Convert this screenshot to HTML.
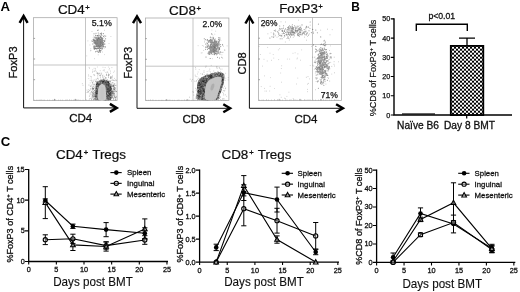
<!DOCTYPE html>
<html><head><meta charset="utf-8"><title>Figure</title>
<style>html,body{margin:0;padding:0;background:#fff;width:520px;height:292px;overflow:hidden}svg{display:block;font-family:"Liberation Sans",sans-serif}</style>
</head><body>
<svg width="520" height="292" viewBox="0 0 520 292" font-family="Liberation Sans, sans-serif">
<rect width="520" height="292" fill="#fff"/>
<defs><filter id="soft" x="0" y="0" width="520" height="292" filterUnits="userSpaceOnUse"><feGaussianBlur stdDeviation="0.32"/></filter><filter id="soft2" x="0" y="0" width="520" height="292" filterUnits="userSpaceOnUse"><feGaussianBlur stdDeviation="0.5"/></filter></defs>
<g filter="url(#soft)">
<text x="0.6" y="10.9" font-size="13.2" text-anchor="start" font-weight="bold" fill="#000" >A</text>
<text x="351.2" y="10.9" font-size="11.9" text-anchor="start" font-weight="bold" fill="#000" >B</text>
<text x="0.7" y="146.0" font-size="13.2" text-anchor="start" font-weight="bold" fill="#000" >C</text>
<rect x="33.6" y="17.7" width="83.5" height="82.7" fill="#fff" stroke="#a6a6a6" stroke-width="0.75"/>
<path d="M85.5 17.7V100.4M33.6 65.0H117.1" stroke="#acacac" stroke-width="0.7" fill="none"/>
<path d="M33.6 38.4h1.5M54.5 100.4v-1.5M33.6 59.0h1.5M75.3 100.4v-1.5M33.6 79.7h1.5M96.2 100.4v-1.5" stroke="#666" stroke-width="0.6" fill="none"/>
<path d="M34.6 100.4v-0.8M36.6 100.4v-0.8M38.1 100.4v-0.8M39.6 100.4v-0.8M41.1 100.4v-1.2M43.1 100.4v-0.8M44.6 100.4v-0.8M47.6 100.4v-0.8M49.6 100.4v-0.8M52.6 100.4v-0.8M54.1 100.4v-0.8M55.6 100.4v-1.2M58.6 100.4v-0.8M60.6 100.4v-0.8M62.6 100.4v-0.8M65.6 100.4v-0.8M67.1 100.4v-1.2M69.6 100.4v-1.2M71.6 100.4v-0.8M73.6 100.4v-0.8M75.1 100.4v-1.2M76.6 100.4v-1.2M78.1 100.4v-1.2M80.1 100.4v-0.8M83.1 100.4v-0.8M86.1 100.4v-1.2M89.1 100.4v-0.8M91.6 100.4v-0.8M93.6 100.4v-1.2M95.6 100.4v-0.8M98.1 100.4v-1.2M101.1 100.4v-0.8M104.1 100.4v-0.8M105.6 100.4v-0.8M108.6 100.4v-0.8M111.1 100.4v-0.8M114.1 100.4v-0.8M115.6 100.4v-1.2" stroke="#777" stroke-width="0.5" stroke-opacity="0.7" fill="none"/>
<path d="M23.6 16.0V107.9H116.7" stroke="#111" stroke-width="1.0" fill="none"/>
<path d="M19.6 22.8L23.6 16.0L27.6 22.8" stroke="#000" stroke-width="2.45" fill="none" stroke-linejoin="miter"/>
<path d="M109.9 103.9L116.7 107.9L109.9 111.9" stroke="#000" stroke-width="2.45" fill="none" stroke-linejoin="miter"/>
<text x="73.8" y="14.0" font-size="13.4" text-anchor="middle" fill="#111" stroke="#111" stroke-width="0.22">CD4<tspan font-size="7.7" dx="0.5" dy="-3.8" stroke="#111" stroke-width="0.35">+</tspan><tspan dy="3.8"></tspan></text>
<text x="80.7" y="122.2" font-size="11.5" text-anchor="middle" font-weight="normal" fill="#111" stroke="#111" stroke-width="0.3">CD4</text>
<text transform="translate(17.2 62.4) rotate(-90)" font-size="11.1" text-anchor="middle" fill="#111" stroke="#111" stroke-width="0.3">FoxP3</text>
<text x="91.7" y="25.9" font-size="9.3" text-anchor="start" font-weight="normal" fill="#111" stroke="#111" stroke-width="0.25" textLength="20.2" lengthAdjust="spacingAndGlyphs">5.1%</text>
<path d="M99.0 38.1h.01M100.2 40.6h.01M97.6 38.2h.01M96.3 40.9h.01M101.9 35.5h.01M95.1 43.7h.01M102.3 44.9h.01M94.0 33.7h.01M99.6 40.1h.01M95.9 46.3h.01M101.5 43.4h.01M99.3 44.4h.01M102.7 45.0h.01M100.0 44.8h.01M94.8 47.4h.01M101.1 44.7h.01M93.8 40.5h.01M100.8 36.3h.01M98.2 46.5h.01M95.4 48.6h.01M100.1 42.3h.01M99.5 45.1h.01M99.0 46.9h.01M97.0 41.3h.01M101.3 42.9h.01M96.5 46.2h.01M102.4 41.2h.01M95.3 42.3h.01M98.3 41.7h.01M102.2 39.1h.01M101.9 38.2h.01M96.7 45.1h.01M101.5 45.9h.01M99.6 43.3h.01M99.1 44.9h.01M98.3 43.8h.01M100.1 42.8h.01M100.6 44.8h.01M103.7 44.0h.01M97.6 41.5h.01M98.7 46.1h.01M97.9 44.2h.01M103.3 33.6h.01M95.9 43.7h.01M99.7 43.7h.01M97.6 45.2h.01M99.4 40.9h.01M104.8 44.1h.01M97.3 42.4h.01M98.1 42.6h.01M91.9 41.0h.01M101.2 38.6h.01M98.5 46.2h.01M100.8 48.2h.01M94.4 41.5h.01M97.8 45.0h.01M101.4 33.1h.01M101.4 37.6h.01M100.4 37.4h.01M99.1 47.1h.01M98.3 43.5h.01M100.7 43.3h.01M98.5 48.3h.01M101.3 41.7h.01M105.6 38.7h.01M101.0 41.8h.01M99.0 45.3h.01M99.3 45.1h.01M94.9 37.4h.01M100.2 39.3h.01M96.1 37.5h.01M101.9 45.5h.01M102.4 39.4h.01M98.7 38.7h.01M100.6 48.5h.01M96.5 48.4h.01M101.2 42.2h.01M93.8 47.9h.01M98.5 40.6h.01M99.7 44.3h.01M102.4 39.1h.01M101.5 48.2h.01M102.3 42.1h.01M96.8 46.5h.01M99.0 43.2h.01M102.3 41.9h.01M93.0 41.4h.01M94.1 45.7h.01M99.5 40.6h.01M98.7 45.8h.01M98.9 47.6h.01M98.5 46.5h.01M102.4 48.6h.01M97.0 46.0h.01M94.0 38.9h.01M93.8 46.6h.01M95.6 42.8h.01M98.2 42.7h.01M97.2 43.6h.01M103.2 43.0h.01M100.0 46.4h.01M98.2 38.3h.01M97.3 46.7h.01M94.6 40.6h.01M101.2 45.7h.01M98.7 45.7h.01M99.1 38.6h.01M94.8 40.5h.01M101.0 40.8h.01M96.4 40.0h.01M94.9 42.4h.01M95.8 44.1h.01M92.8 44.0h.01M97.1 35.8h.01M100.5 41.8h.01M93.1 39.6h.01M99.4 41.1h.01M100.6 45.5h.01M100.4 44.0h.01M102.0 45.2h.01M99.8 35.3h.01M100.9 47.5h.01M98.0 41.1h.01M103.6 36.5h.01M99.9 51.5h.01M96.4 45.3h.01M103.4 42.4h.01M100.1 46.0h.01M96.4 42.5h.01M99.4 45.8h.01M98.6 42.1h.01M96.2 41.5h.01M100.9 43.2h.01M96.6 39.8h.01M105.4 46.9h.01M100.3 33.5h.01M100.3 44.5h.01M102.9 44.3h.01M98.5 44.7h.01M93.8 46.5h.01M99.5 40.3h.01M102.0 49.3h.01M95.2 40.4h.01M99.4 43.5h.01M97.7 39.3h.01M104.0 46.5h.01M95.7 38.0h.01M103.0 46.4h.01M103.3 45.7h.01M96.5 43.7h.01M93.3 40.1h.01M98.6 44.7h.01M96.9 42.4h.01M99.8 44.2h.01M100.3 43.6h.01M97.9 45.6h.01M98.8 39.8h.01M97.1 42.8h.01M98.4 43.4h.01M98.7 43.4h.01M98.4 38.3h.01M99.8 46.6h.01M99.8 42.1h.01M99.8 39.3h.01M94.0 43.0h.01M96.4 45.5h.01M96.0 33.3h.01M96.1 48.5h.01M97.7 37.9h.01M96.8 44.7h.01M99.9 43.4h.01M102.4 45.3h.01M98.6 44.9h.01M102.8 46.3h.01M101.3 38.9h.01M98.3 45.4h.01M98.0 46.6h.01M100.2 46.1h.01M98.2 52.0h.01M101.8 42.0h.01M98.9 52.1h.01M97.8 45.9h.01M101.2 42.8h.01M95.8 43.5h.01M99.6 46.9h.01M100.7 42.9h.01M100.8 44.7h.01M99.2 43.0h.01M98.1 45.3h.01M96.1 40.5h.01M98.7 37.5h.01M97.6 35.6h.01M97.0 44.8h.01M100.1 42.6h.01M98.1 37.7h.01M103.3 44.7h.01M101.4 39.6h.01M98.2 36.2h.01M100.7 46.2h.01M94.0 42.6h.01M100.3 36.5h.01M94.1 39.0h.01M97.1 37.7h.01M98.8 43.7h.01M100.3 45.3h.01M102.5 47.0h.01M95.4 41.0h.01M96.0 38.9h.01M98.5 42.8h.01M99.9 37.1h.01M95.6 42.7h.01M98.2 41.7h.01M98.5 40.1h.01M100.5 44.1h.01M98.5 40.4h.01M98.3 33.0h.01M96.2 42.9h.01M94.9 43.5h.01M99.1 37.8h.01M98.1 41.7h.01M99.8 45.0h.01M98.6 39.7h.01M98.3 42.6h.01M100.5 43.9h.01M96.9 37.9h.01M97.8 40.1h.01M95.9 42.4h.01M97.5 43.2h.01M100.0 41.3h.01M104.5 41.6h.01M101.5 43.2h.01M101.5 34.2h.01M96.8 43.7h.01M100.2 51.2h.01M99.5 47.4h.01M100.6 46.2h.01M100.0 42.2h.01M100.0 38.9h.01M101.7 39.1h.01M99.3 50.4h.01M98.1 42.9h.01M101.6 42.9h.01M96.7 43.7h.01M100.2 45.4h.01M96.8 49.1h.01M102.9 42.9h.01M99.4 41.3h.01M102.2 40.3h.01M100.4 41.1h.01M97.0 45.4h.01M102.0 42.8h.01M97.0 45.7h.01M98.6 43.9h.01M102.5 46.9h.01M97.4 51.0h.01M98.7 45.6h.01M97.1 42.6h.01M94.3 49.2h.01M102.1 38.4h.01M94.9 37.0h.01M101.6 41.1h.01M98.5 41.7h.01M98.4 38.9h.01M98.8 37.6h.01M98.5 43.9h.01M99.9 42.0h.01M96.4 43.4h.01M97.5 48.4h.01M100.6 42.4h.01M97.5 40.3h.01M96.4 41.5h.01M99.4 44.7h.01M100.1 50.4h.01M96.9 42.8h.01M105.7 36.1h.01M97.4 43.4h.01M99.1 44.3h.01M98.1 44.1h.01M98.8 45.6h.01M94.0 39.6h.01M98.7 39.1h.01M96.1 45.1h.01M97.1 45.1h.01M100.6 43.9h.01M100.0 42.4h.01M95.2 42.7h.01M99.8 40.9h.01M98.5 45.5h.01M96.5 45.1h.01M103.4 40.8h.01M99.1 42.3h.01M102.6 43.9h.01M100.9 40.3h.01M98.7 42.8h.01M94.3 48.0h.01M100.9 36.5h.01M100.6 42.3h.01M99.8 44.1h.01M95.0 42.0h.01M102.4 40.7h.01M96.1 37.9h.01M95.6 44.0h.01M102.9 44.3h.01M99.3 50.8h.01M97.4 40.4h.01M100.0 44.8h.01M96.2 38.6h.01M99.4 43.7h.01M95.4 42.1h.01M97.3 44.5h.01M98.4 42.5h.01M97.8 46.6h.01M102.2 41.5h.01M100.8 40.1h.01M98.9 45.5h.01M102.5 41.4h.01M98.5 43.5h.01M95.0 42.9h.01M97.0 44.1h.01M95.9 35.7h.01M98.8 43.7h.01M97.3 46.0h.01M98.0 40.6h.01M99.9 37.2h.01M97.0 42.7h.01M100.8 42.2h.01M99.5 40.4h.01M99.5 48.8h.01M97.0 51.3h.01M97.1 42.9h.01M99.1 46.5h.01M95.6 35.2h.01M100.2 45.7h.01M100.3 52.3h.01M99.2 43.7h.01M101.0 44.1h.01M102.9 38.3h.01M97.8 30.4h.01M100.7 41.5h.01M101.0 50.6h.01M98.7 41.9h.01M97.5 39.8h.01M97.1 45.1h.01M98.8 43.0h.01M98.3 46.1h.01M99.9 42.3h.01M100.4 42.3h.01M95.8 48.0h.01M99.9 39.4h.01M101.4 44.0h.01M94.8 48.6h.01M99.5 46.0h.01M99.2 42.3h.01M94.8 46.3h.01M98.8 41.8h.01M99.6 43.1h.01M100.4 41.5h.01M98.6 35.1h.01M97.6 45.2h.01M102.0 41.5h.01M98.4 48.5h.01M97.9 45.4h.01M102.9 42.9h.01M101.8 40.2h.01M99.2 42.5h.01M99.0 46.9h.01M104.7 40.4h.01M97.3 44.6h.01M96.1 44.6h.01M100.1 41.8h.01M100.0 37.2h.01M100.6 37.2h.01M97.0 40.8h.01M97.7 45.9h.01M98.9 41.4h.01M100.1 48.5h.01M98.7 44.1h.01M101.8 43.8h.01M95.5 51.8h.01M104.2 35.7h.01" stroke="#222" stroke-opacity="0.52" stroke-width="1.1" stroke-linecap="round" fill="none" filter="url(#soft2)"/>
<path d="M98.5 45.8h.01M103.3 47.5h.01M97.4 35.8h.01M99.2 50.0h.01M93.5 36.0h.01M98.6 29.8h.01M97.5 40.0h.01M100.9 38.2h.01M94.5 40.3h.01M98.5 38.5h.01M98.8 48.1h.01M104.4 54.6h.01M94.9 40.1h.01M86.8 55.9h.01M95.2 42.8h.01M101.2 33.8h.01M100.9 42.8h.01M89.9 45.0h.01M104.4 30.3h.01M102.6 44.4h.01M101.0 46.0h.01M105.0 41.5h.01M102.9 40.2h.01M102.2 37.5h.01M98.2 54.8h.01M100.8 41.9h.01M93.2 37.6h.01M99.6 49.4h.01M100.7 46.6h.01M98.5 52.2h.01M96.8 39.3h.01M103.0 43.4h.01M97.4 39.1h.01M97.5 47.2h.01M100.4 34.8h.01M100.7 44.2h.01M93.9 48.3h.01M97.4 40.7h.01M102.5 52.0h.01M95.4 46.0h.01M94.5 58.7h.01M96.3 51.1h.01M95.6 48.5h.01M109.4 25.7h.01M96.6 46.4h.01M98.3 38.5h.01M109.0 43.5h.01M90.8 48.8h.01M90.4 50.8h.01M95.9 44.0h.01M104.8 43.8h.01M92.0 31.5h.01M104.4 48.0h.01M94.8 48.8h.01M101.1 47.4h.01M87.9 40.9h.01M103.0 48.0h.01M102.9 26.3h.01M99.5 46.3h.01M110.9 36.5h.01M97.1 43.2h.01M103.0 40.0h.01M104.2 37.6h.01M100.0 39.4h.01M99.5 38.3h.01M91.0 50.4h.01M100.2 39.2h.01M99.7 49.7h.01M94.0 42.2h.01M101.3 46.6h.01" stroke="#222" stroke-opacity="0.25" stroke-width="0.8" stroke-linecap="round" fill="none" filter="url(#soft2)"/>
<path d="M101.7 73.1h.01M111.5 93.8h.01M103.9 88.6h.01M105.4 87.4h.01M97.4 84.7h.01M100.1 85.8h.01M96.6 96.4h.01M95.7 96.6h.01M97.5 94.0h.01M112.3 92.7h.01M99.3 91.4h.01M104.7 76.3h.01M100.0 92.4h.01M100.9 91.7h.01M108.4 97.5h.01M109.4 96.0h.01M102.0 90.8h.01M102.1 88.3h.01M102.7 76.3h.01M101.7 90.8h.01M97.8 90.8h.01M107.0 89.6h.01M102.5 75.5h.01M88.3 92.1h.01M107.0 88.4h.01M107.2 71.9h.01M109.1 94.2h.01M103.9 86.0h.01M107.8 86.9h.01M105.2 86.7h.01M89.9 90.7h.01M105.1 97.4h.01M98.4 90.7h.01M107.6 92.2h.01M98.2 74.7h.01M109.5 97.9h.01M100.0 84.9h.01M109.3 83.3h.01M92.6 82.5h.01M99.5 84.8h.01M105.2 84.6h.01M111.9 90.3h.01M100.2 92.9h.01M103.7 88.3h.01M105.8 85.1h.01M92.4 72.2h.01M95.9 84.6h.01M103.7 91.5h.01M107.2 92.0h.01M98.9 85.0h.01M90.7 89.6h.01M106.8 95.5h.01M103.0 89.5h.01M109.6 91.1h.01M108.4 96.0h.01M100.2 87.9h.01M98.8 84.2h.01M103.9 95.8h.01M111.1 97.9h.01M111.3 80.3h.01M99.8 94.8h.01M112.7 91.9h.01M98.5 88.0h.01M99.7 83.7h.01M113.1 85.7h.01M111.1 93.9h.01M100.0 94.5h.01M113.9 96.3h.01M111.6 91.8h.01M107.0 89.3h.01M94.9 90.5h.01M105.3 86.1h.01M101.9 97.7h.01M116.2 96.4h.01M105.8 77.8h.01M115.8 91.7h.01M103.6 81.5h.01M103.4 81.7h.01M104.2 95.0h.01M104.0 93.4h.01M99.8 75.5h.01M102.6 84.5h.01M97.5 88.0h.01M105.6 81.0h.01M108.0 89.7h.01M104.6 90.0h.01M103.5 97.2h.01M103.2 70.6h.01M103.7 83.4h.01M107.8 85.8h.01M97.3 81.4h.01M95.0 70.6h.01M92.2 94.1h.01M99.8 75.1h.01M94.6 96.2h.01M99.0 87.9h.01M115.8 99.8h.01M104.7 92.6h.01M101.9 94.9h.01M105.6 91.4h.01M100.7 79.7h.01M100.5 77.9h.01M111.4 95.6h.01M109.3 74.8h.01M115.2 97.9h.01M116.6 80.5h.01M107.1 94.6h.01M105.1 92.5h.01M110.3 78.3h.01M96.1 79.1h.01M100.3 85.9h.01M106.1 93.3h.01M104.0 85.2h.01M101.1 99.1h.01M108.5 91.9h.01M100.1 96.5h.01M111.0 88.7h.01M108.9 81.5h.01M110.1 92.7h.01M94.0 96.7h.01M99.6 89.6h.01M105.6 88.2h.01M105.4 86.3h.01M108.0 91.0h.01M105.1 67.6h.01M111.0 91.3h.01M92.7 91.8h.01M102.9 96.8h.01M101.5 81.5h.01M110.6 98.7h.01M113.3 98.3h.01M100.2 76.9h.01M99.8 85.3h.01M98.7 96.0h.01M105.8 88.7h.01M104.9 89.8h.01M105.1 97.4h.01M109.7 85.2h.01M93.6 88.2h.01M104.0 78.7h.01M100.6 97.2h.01M98.4 79.1h.01M107.0 99.0h.01M105.0 79.9h.01M108.6 97.7h.01M107.2 86.9h.01M105.7 97.7h.01M100.3 75.3h.01M105.8 95.1h.01M103.9 98.6h.01M100.2 90.3h.01M101.9 95.9h.01M113.7 88.9h.01M108.7 96.0h.01M114.8 89.5h.01M103.1 82.0h.01M107.1 94.6h.01M102.6 92.4h.01M101.3 81.6h.01M99.1 84.0h.01M95.4 98.9h.01M109.3 86.1h.01M94.6 84.7h.01M99.9 93.9h.01M101.6 73.8h.01M105.2 78.0h.01M109.4 80.7h.01M99.5 83.7h.01M109.1 96.1h.01M105.8 77.8h.01M100.6 86.3h.01M97.7 95.3h.01M99.2 85.0h.01M97.3 73.5h.01M104.9 82.7h.01M87.0 92.5h.01M111.3 93.5h.01M110.8 87.2h.01M110.3 97.6h.01M94.3 87.6h.01M95.0 90.1h.01M107.4 81.9h.01M102.5 93.3h.01M102.8 99.5h.01M110.2 91.7h.01M95.4 97.3h.01M100.9 96.3h.01M110.9 87.2h.01M100.5 94.7h.01M107.0 79.8h.01M96.0 93.1h.01M108.6 76.8h.01M98.7 92.4h.01M100.7 89.7h.01M106.7 84.1h.01M106.7 85.6h.01M100.4 95.6h.01M100.2 93.4h.01M113.7 91.2h.01M102.9 97.2h.01M95.8 96.3h.01M100.6 84.2h.01M114.8 83.8h.01M114.7 96.6h.01M112.8 82.7h.01M103.1 89.9h.01M101.2 85.6h.01M106.6 93.8h.01M101.8 95.0h.01M112.8 82.5h.01M95.4 81.7h.01M97.4 75.3h.01M106.6 75.2h.01M93.8 88.3h.01M91.9 97.6h.01M99.2 88.7h.01M104.1 95.6h.01M101.7 91.1h.01M100.4 92.0h.01M96.5 91.5h.01M91.8 86.8h.01M115.7 91.7h.01M96.0 93.2h.01M97.8 77.0h.01M99.2 97.3h.01M106.2 90.2h.01M98.1 81.8h.01M112.2 93.1h.01M97.9 73.1h.01M96.7 90.3h.01M105.1 89.7h.01M102.1 79.3h.01M99.1 98.2h.01M93.3 88.7h.01M105.4 99.8h.01M96.8 96.1h.01M106.2 84.7h.01M106.8 83.4h.01M98.9 90.8h.01M87.0 90.1h.01M97.6 78.6h.01M101.2 97.5h.01M96.6 79.8h.01M113.4 94.4h.01M109.7 84.0h.01M108.8 93.2h.01M107.8 91.2h.01M111.3 85.5h.01M97.8 78.4h.01M111.0 84.7h.01M97.3 83.0h.01M101.0 80.2h.01M102.0 85.7h.01M100.4 82.8h.01M104.0 87.1h.01M104.5 93.1h.01M105.9 72.4h.01M100.5 84.2h.01M108.6 77.6h.01M99.4 88.5h.01M101.7 99.4h.01M101.1 99.2h.01M94.7 75.6h.01M111.4 94.7h.01M106.8 92.0h.01M106.8 80.7h.01M109.7 86.5h.01M109.9 91.7h.01M91.6 80.1h.01M110.8 89.8h.01M101.3 93.1h.01M101.2 86.4h.01M104.4 92.2h.01M113.2 91.4h.01M104.6 92.2h.01M102.9 84.8h.01M103.4 85.6h.01M114.0 95.5h.01M101.0 74.7h.01M103.5 87.5h.01M97.1 81.3h.01M89.8 95.8h.01M103.6 89.7h.01M112.8 92.1h.01M104.8 87.8h.01M101.6 91.3h.01M98.3 99.2h.01M95.2 95.8h.01M99.4 84.6h.01M114.0 85.9h.01M99.1 88.1h.01M100.4 75.7h.01M115.4 88.7h.01M99.5 86.7h.01M92.1 98.7h.01M93.2 80.2h.01M105.6 84.5h.01M108.6 91.1h.01M96.5 96.3h.01M109.0 74.7h.01M115.1 95.2h.01M108.5 75.2h.01M99.3 88.0h.01M110.5 78.6h.01M98.3 73.7h.01M102.3 93.9h.01M93.3 86.0h.01M107.9 88.4h.01M96.5 83.0h.01M99.7 92.2h.01M105.6 81.9h.01M113.4 99.1h.01M104.4 84.9h.01M92.2 82.3h.01M109.5 84.2h.01M95.6 92.7h.01M105.3 96.2h.01M98.6 99.3h.01M97.7 96.9h.01M104.9 93.1h.01M109.8 90.9h.01M110.7 98.4h.01M104.6 86.2h.01M99.1 86.5h.01M102.5 90.8h.01M108.6 83.7h.01M99.4 88.3h.01M105.0 82.2h.01M113.8 86.2h.01M110.5 71.1h.01M103.8 93.4h.01M105.0 96.1h.01M105.5 92.4h.01M92.1 84.9h.01M89.3 96.3h.01M105.7 89.3h.01M98.7 86.1h.01M94.0 74.6h.01M100.8 83.6h.01M100.3 92.6h.01M104.1 93.3h.01M103.6 98.9h.01M114.8 80.4h.01M104.8 88.7h.01M106.0 78.0h.01M92.9 71.3h.01M107.1 92.6h.01M104.3 70.9h.01M101.5 84.6h.01M95.0 83.2h.01M108.1 95.6h.01M103.7 95.4h.01M100.1 91.6h.01M104.0 95.7h.01M103.4 89.8h.01M103.0 85.5h.01M112.5 77.8h.01M108.1 98.1h.01M108.6 81.0h.01M98.4 93.3h.01M106.9 82.3h.01M101.4 87.6h.01M104.2 93.9h.01M102.0 80.5h.01M103.1 99.7h.01M106.6 96.6h.01M106.8 84.5h.01M107.4 99.6h.01M116.1 97.3h.01M101.7 85.9h.01M98.8 92.0h.01M103.6 96.7h.01M108.0 95.0h.01M105.5 89.2h.01M103.0 84.0h.01M104.9 90.8h.01M105.8 83.7h.01M104.0 91.4h.01M107.5 82.0h.01M106.4 99.4h.01M107.5 87.9h.01M100.8 89.0h.01M102.8 85.5h.01M106.1 92.7h.01M98.2 84.7h.01M103.2 96.7h.01M96.4 82.3h.01M106.9 80.6h.01M104.5 94.0h.01M103.1 82.3h.01M103.4 88.2h.01M105.9 83.9h.01M110.6 76.8h.01M102.7 91.1h.01M109.8 85.8h.01M107.2 86.2h.01M101.3 94.8h.01M98.1 99.3h.01M111.3 91.3h.01M96.8 94.4h.01M108.8 75.4h.01M115.5 97.5h.01M110.7 88.2h.01M96.2 90.1h.01M102.6 90.6h.01M108.1 89.8h.01M105.0 94.6h.01M106.5 91.7h.01M102.5 85.7h.01M112.1 92.3h.01M97.1 86.2h.01M103.0 87.2h.01M110.5 81.1h.01M106.9 92.2h.01M96.5 91.4h.01M103.2 95.3h.01M101.0 93.6h.01M93.5 81.8h.01M108.7 99.9h.01M103.7 85.9h.01M110.5 73.2h.01M98.8 96.7h.01M107.8 82.2h.01M104.7 83.4h.01M104.1 98.7h.01M108.4 73.3h.01M108.6 75.9h.01M110.9 94.4h.01M99.8 85.0h.01M101.5 90.4h.01M97.1 95.1h.01M107.2 91.6h.01M114.3 88.2h.01M111.9 86.4h.01M108.5 74.6h.01M105.0 89.5h.01M100.7 85.8h.01M101.6 84.9h.01M90.2 85.9h.01M100.4 86.5h.01M97.2 89.8h.01M108.7 88.9h.01M109.9 98.8h.01M111.0 88.2h.01M100.4 90.0h.01M106.1 94.2h.01M102.1 99.4h.01M102.7 97.2h.01M110.4 96.6h.01M108.3 81.1h.01M95.7 85.7h.01M96.2 93.6h.01M98.5 84.8h.01M102.1 96.9h.01M97.7 98.6h.01M109.6 91.6h.01M106.8 86.2h.01M97.0 87.6h.01M105.1 93.7h.01M108.4 84.4h.01M109.5 94.2h.01M94.4 96.1h.01M107.2 94.8h.01M113.6 87.5h.01M107.0 97.4h.01M94.8 79.9h.01M107.0 81.7h.01M103.1 77.0h.01M104.2 81.4h.01M105.9 78.0h.01M106.6 88.7h.01M104.2 90.4h.01M104.6 79.8h.01M87.9 91.3h.01M98.0 87.1h.01M106.4 74.1h.01M99.1 85.8h.01M97.2 93.8h.01M102.9 84.0h.01M97.7 97.9h.01M99.7 96.0h.01M106.6 74.9h.01M97.1 91.0h.01M105.9 97.6h.01M108.8 99.8h.01M101.5 89.2h.01M108.6 87.4h.01M110.4 77.5h.01M107.9 89.5h.01M91.6 99.3h.01M105.7 91.2h.01M97.1 87.0h.01M113.2 84.0h.01M82.3 83.7h.01M96.4 89.9h.01M101.4 83.2h.01M100.4 81.7h.01M108.7 95.8h.01M97.3 97.4h.01M92.4 83.1h.01M110.8 88.8h.01M95.7 95.4h.01M109.5 90.8h.01M92.6 88.1h.01M106.4 97.5h.01M115.3 88.9h.01M100.8 90.7h.01M111.3 83.0h.01M111.9 67.6h.01M108.7 85.3h.01M106.6 96.9h.01M96.5 90.3h.01M105.3 96.0h.01M98.0 82.6h.01M102.6 89.1h.01M94.5 98.9h.01M109.1 91.2h.01M108.3 81.5h.01M101.8 86.1h.01M95.9 91.1h.01M83.0 85.3h.01M98.1 87.1h.01M106.4 94.4h.01M104.0 87.0h.01M106.9 94.1h.01M92.4 88.8h.01M95.3 81.0h.01M104.7 91.5h.01M104.5 83.6h.01M102.6 83.2h.01M106.2 96.9h.01M98.8 87.1h.01M98.0 93.6h.01M116.1 97.0h.01M90.2 80.3h.01M95.8 95.4h.01M103.8 93.5h.01M114.8 84.0h.01M105.9 84.4h.01M91.2 78.0h.01M88.6 91.6h.01M104.1 99.4h.01M102.9 85.1h.01M92.9 92.5h.01M104.0 96.2h.01M101.3 95.2h.01M108.9 89.7h.01M101.0 89.4h.01M97.8 89.2h.01M101.9 92.8h.01M101.0 96.1h.01M105.6 97.5h.01M103.9 93.3h.01M100.9 84.3h.01M107.9 94.7h.01M105.5 87.2h.01M92.7 96.6h.01M105.0 86.3h.01M99.3 90.8h.01M100.7 92.3h.01M102.5 84.6h.01M110.5 84.3h.01M100.7 95.7h.01M100.5 87.3h.01M106.0 87.9h.01M96.1 90.1h.01M97.0 99.2h.01M98.9 88.0h.01M101.8 93.3h.01M110.0 97.9h.01M99.1 98.7h.01M103.1 94.0h.01M102.1 96.6h.01M102.5 99.5h.01M112.8 83.0h.01M112.9 79.6h.01M107.2 96.0h.01M113.0 93.4h.01M100.8 84.2h.01M96.0 97.5h.01M102.3 84.9h.01M107.1 84.5h.01M101.1 87.1h.01M102.8 77.6h.01M105.5 91.6h.01M106.0 95.8h.01M101.8 98.9h.01M109.0 92.8h.01M101.3 86.9h.01M108.1 81.7h.01" stroke="#222" stroke-opacity="0.25" stroke-width="0.9" stroke-linecap="round" fill="none" filter="url(#soft2)"/>
<path d="M108.1 75.3h.01M99.8 89.2h.01M97.3 67.0h.01M111.6 92.2h.01M95.4 68.4h.01M112.2 86.7h.01M88.4 74.9h.01M90.3 92.7h.01M93.2 96.7h.01M109.1 69.8h.01M107.5 79.8h.01M109.1 93.9h.01M95.3 69.9h.01M114.9 80.8h.01M114.4 89.5h.01M108.8 94.0h.01M105.5 81.7h.01M88.6 89.7h.01M99.6 83.6h.01M114.4 71.1h.01M109.5 68.4h.01M107.7 93.2h.01M94.7 84.8h.01M115.6 87.7h.01M103.0 75.1h.01M88.8 78.6h.01M99.1 73.5h.01M96.2 71.4h.01M107.9 88.8h.01M94.0 74.9h.01M102.2 81.5h.01M114.6 78.4h.01M95.8 95.8h.01M91.2 85.3h.01M96.8 93.5h.01M103.2 91.7h.01M92.0 88.7h.01M104.7 82.0h.01M109.6 94.0h.01M90.4 76.4h.01M97.6 73.7h.01M88.8 76.1h.01M92.8 89.8h.01M100.2 70.7h.01M96.6 82.2h.01M97.7 72.5h.01M89.1 67.4h.01M116.3 91.4h.01M89.5 90.3h.01M115.9 85.3h.01M90.2 82.9h.01M99.8 73.2h.01M103.0 67.3h.01M114.1 87.9h.01M105.5 97.4h.01M106.3 75.2h.01M94.3 71.5h.01M87.8 92.2h.01M111.8 76.6h.01M92.5 87.7h.01M111.9 97.1h.01M92.0 92.5h.01M111.5 91.1h.01M96.6 73.0h.01M111.3 77.4h.01M97.9 84.9h.01M97.9 94.0h.01M94.1 68.3h.01M103.7 87.4h.01M111.2 89.9h.01M113.7 97.7h.01M101.6 83.2h.01M91.6 76.7h.01M104.1 69.6h.01M107.3 72.3h.01M100.1 98.5h.01M89.6 68.3h.01M100.0 73.2h.01M108.3 67.1h.01M111.8 94.8h.01M110.2 80.8h.01M95.4 88.5h.01M102.2 80.7h.01M97.0 81.3h.01M106.7 93.8h.01M113.7 72.3h.01M95.7 81.4h.01M103.6 78.3h.01M92.8 69.8h.01M96.5 82.0h.01" stroke="#222" stroke-opacity="0.25" stroke-width="0.8" stroke-linecap="round" fill="none" filter="url(#soft2)"/>
<path d="M115.8 79.9h.01M114.7 89.2h.01M111.8 89.2h.01M110.0 84.3h.01M110.6 97.8h.01M114.1 89.2h.01M110.3 87.3h.01M113.0 91.6h.01M110.4 85.6h.01M114.5 95.1h.01M109.3 96.2h.01M108.9 94.4h.01M109.3 88.8h.01M112.6 93.3h.01M113.8 86.6h.01M115.1 98.1h.01M111.5 93.5h.01M109.7 90.2h.01M108.5 91.5h.01M112.0 98.1h.01M113.7 95.3h.01M110.7 89.8h.01M110.7 92.2h.01M107.1 95.1h.01M107.9 88.3h.01M111.6 88.3h.01M115.3 90.5h.01M115.1 97.2h.01M110.4 93.1h.01M114.5 89.2h.01M111.7 88.1h.01M111.6 89.1h.01M111.7 96.3h.01M114.7 91.7h.01M112.0 95.5h.01M110.8 85.4h.01M114.1 86.1h.01M113.6 85.9h.01M115.7 85.5h.01M113.5 98.9h.01M109.3 98.8h.01M109.6 81.7h.01M113.2 94.7h.01M111.0 77.7h.01M111.4 89.4h.01M110.6 89.5h.01M107.4 88.0h.01M115.6 99.2h.01M110.7 87.2h.01M112.4 96.6h.01M113.2 84.8h.01M111.9 91.7h.01M114.8 97.3h.01M112.7 97.4h.01M110.6 99.1h.01M110.5 93.1h.01M113.6 86.2h.01M109.9 81.7h.01M111.9 90.7h.01M110.7 93.6h.01M106.6 90.9h.01M111.7 89.6h.01M110.5 86.0h.01M110.1 91.5h.01M112.9 86.5h.01M113.8 85.6h.01M113.4 93.3h.01M110.9 90.1h.01M112.6 95.6h.01M108.4 92.5h.01M109.8 94.3h.01M114.7 91.3h.01M111.3 92.0h.01M104.7 95.1h.01M112.8 91.9h.01M110.6 87.1h.01M111.1 97.4h.01M111.3 98.1h.01M105.6 88.6h.01M112.1 90.9h.01M107.7 87.5h.01M114.4 84.2h.01M109.2 85.2h.01M110.2 94.4h.01M112.9 80.3h.01M114.9 87.9h.01M110.1 99.8h.01M111.3 84.5h.01M110.0 87.2h.01M109.2 89.2h.01M113.5 92.8h.01M109.2 91.6h.01M111.6 95.0h.01M110.7 93.4h.01M116.4 91.5h.01M109.0 92.7h.01M109.7 89.0h.01M111.9 92.8h.01M110.8 95.5h.01M111.1 84.1h.01M113.5 89.1h.01M114.3 87.5h.01M112.8 92.7h.01M105.3 83.1h.01M108.9 98.4h.01M107.1 95.8h.01M114.0 93.6h.01M113.1 88.4h.01M111.5 92.2h.01M112.5 94.7h.01M111.0 87.3h.01M110.2 93.2h.01M107.7 84.4h.01M110.6 88.1h.01M110.9 76.9h.01M110.7 89.7h.01M113.3 80.5h.01M110.8 93.5h.01M112.6 97.3h.01M113.9 85.5h.01M113.0 89.2h.01M109.6 99.1h.01M110.0 86.5h.01M110.6 86.5h.01M113.8 93.0h.01M114.7 93.2h.01M110.1 96.5h.01M110.0 88.6h.01M111.1 91.2h.01M114.3 87.8h.01M112.3 90.9h.01M108.6 85.2h.01M111.0 93.1h.01M112.2 93.5h.01M111.6 88.6h.01M112.5 85.7h.01M108.4 89.2h.01M108.2 88.3h.01M109.8 88.1h.01M111.4 86.8h.01M110.5 81.9h.01M111.8 86.3h.01M112.4 76.0h.01M109.6 92.3h.01M105.9 89.1h.01M111.7 91.5h.01M108.0 92.2h.01M111.8 85.8h.01M113.2 90.7h.01M111.5 88.6h.01M112.8 91.5h.01M114.1 93.4h.01M110.1 89.8h.01M113.6 89.1h.01M112.4 93.8h.01M111.1 78.6h.01M111.8 92.1h.01M111.8 87.0h.01M114.3 90.3h.01M110.1 87.2h.01M112.3 85.2h.01M114.5 96.6h.01M114.7 94.2h.01M107.6 97.4h.01" stroke="#222" stroke-opacity="0.3" stroke-width="1.0" stroke-linecap="round" fill="none" filter="url(#soft2)"/>
<path d="M96.0 95.1h.01M90.4 98.4h.01M96.2 90.9h.01M94.0 96.4h.01M93.7 97.8h.01M93.9 96.0h.01M93.9 86.6h.01M94.3 98.7h.01M94.8 90.4h.01M93.8 84.6h.01M93.5 97.0h.01M90.0 93.9h.01M95.2 98.8h.01M92.2 90.2h.01M90.5 88.6h.01M91.8 99.0h.01M94.5 90.8h.01M97.6 82.0h.01M93.7 94.0h.01M97.8 93.6h.01M95.5 99.0h.01M94.7 94.6h.01M93.5 91.2h.01M93.0 83.9h.01M94.3 92.9h.01M93.6 91.8h.01M92.5 92.9h.01M93.0 93.9h.01M99.3 94.7h.01M95.3 96.6h.01M95.1 96.6h.01M95.0 99.2h.01M95.6 98.9h.01M92.9 93.0h.01M92.5 97.2h.01M95.3 91.0h.01M96.0 88.1h.01M93.6 95.8h.01M93.7 94.7h.01M95.9 94.4h.01M91.9 96.1h.01M93.6 93.5h.01M92.8 86.9h.01M91.6 91.5h.01M91.9 81.1h.01M95.8 87.9h.01M92.5 95.3h.01M89.6 98.9h.01M92.5 95.9h.01M93.0 94.3h.01M94.0 93.0h.01M90.6 86.6h.01M93.7 99.2h.01M92.8 95.3h.01M94.1 95.1h.01M95.5 86.4h.01M94.3 92.2h.01M93.3 89.3h.01M92.4 88.5h.01M96.8 93.0h.01M95.1 88.7h.01M88.9 85.0h.01M94.0 99.3h.01M93.7 88.6h.01M93.4 88.6h.01M91.4 92.0h.01M93.1 89.4h.01M92.2 88.9h.01M94.2 99.1h.01M91.0 94.2h.01" stroke="#222" stroke-opacity="0.28" stroke-width="1.0" stroke-linecap="round" fill="none" filter="url(#soft2)"/>
<path d="M95.6 99.6C93.0 97.7 95.4 90.7 95.6 88.0C95.8 85.3 95.9 84.7 96.5 83.5C97.1 82.3 97.9 81.2 99.0 80.6C100.1 79.9 101.6 79.6 103.0 79.6C104.4 79.6 106.1 79.8 107.3 80.4C108.5 81.1 109.4 82.2 110.0 83.5C110.6 84.8 110.8 85.3 111.0 88.0C111.2 90.7 113.6 97.7 111.0 99.6C108.4 101.5 98.2 101.5 95.6 99.6Z" fill="#727272" fill-opacity="0.55"/>
<path d="M97.8 98.1h.01M108.1 84.4h.01M98.3 96.0h.01M109.4 97.0h.01M96.3 87.2h.01M108.4 96.0h.01M97.5 82.7h.01M99.5 81.7h.01M102.6 81.4h.01M107.3 82.6h.01M106.1 86.9h.01M103.6 84.4h.01M104.4 80.8h.01M100.6 84.4h.01M101.3 80.5h.01M108.1 86.6h.01M96.7 94.7h.01M109.5 94.7h.01M96.0 91.5h.01M108.3 93.0h.01M107.0 87.6h.01M96.2 93.2h.01M97.4 84.0h.01M96.8 95.9h.01M107.2 90.9h.01M96.4 93.2h.01M106.6 89.3h.01M96.4 93.4h.01M108.2 97.0h.01M97.8 86.3h.01M103.6 79.7h.01M108.8 90.7h.01M108.8 84.7h.01M107.9 83.6h.01M109.8 90.7h.01M96.4 85.9h.01M104.8 83.2h.01M109.8 90.8h.01M107.9 89.6h.01M106.0 93.1h.01M100.1 83.8h.01M108.5 82.5h.01M109.7 83.7h.01M107.7 98.6h.01M109.6 93.3h.01M106.3 80.4h.01M108.5 85.5h.01M104.2 82.7h.01M109.6 86.1h.01M108.6 82.6h.01M107.9 99.2h.01M101.6 80.3h.01M104.0 81.5h.01M106.1 81.9h.01M108.4 82.0h.01M109.8 99.5h.01M110.1 90.1h.01M103.9 81.4h.01M97.8 85.0h.01M109.4 96.5h.01M110.1 92.7h.01M96.4 86.3h.01M96.7 90.8h.01M97.1 90.6h.01M107.7 91.5h.01M102.7 80.3h.01M103.5 81.5h.01M105.6 82.2h.01M105.8 82.9h.01M98.2 98.4h.01M103.0 82.6h.01M97.0 97.2h.01M97.4 89.5h.01M103.9 82.0h.01M102.8 82.9h.01M98.6 87.7h.01M98.7 82.1h.01M110.1 89.4h.01M107.8 91.0h.01M106.2 84.2h.01M107.2 82.7h.01M104.5 84.3h.01M96.6 84.5h.01M110.1 87.8h.01M101.9 81.4h.01M97.9 86.5h.01M97.8 83.6h.01M99.0 86.2h.01M110.6 99.5h.01M107.8 89.2h.01M107.2 92.3h.01M107.7 81.4h.01M106.6 86.6h.01M98.1 98.9h.01M106.0 94.5h.01M97.7 96.2h.01M110.0 97.7h.01M107.1 96.2h.01M108.0 91.4h.01M109.0 85.6h.01M110.4 90.2h.01M110.5 95.3h.01M106.5 87.4h.01M107.7 95.5h.01M106.1 98.4h.01M108.3 87.7h.01M96.9 92.6h.01M108.5 86.4h.01M95.7 89.4h.01M108.1 88.0h.01M98.9 86.7h.01M108.6 92.0h.01M100.1 81.4h.01M105.8 95.7h.01M97.5 93.3h.01M96.2 96.1h.01M98.4 85.0h.01M110.3 86.8h.01M109.4 87.5h.01M108.4 82.8h.01M108.1 84.6h.01M101.0 81.6h.01M105.9 81.1h.01M109.6 89.6h.01M108.5 93.3h.01M109.3 94.2h.01M100.6 82.3h.01M110.3 97.4h.01M97.8 91.4h.01M104.5 80.5h.01M106.2 85.1h.01M98.1 91.1h.01M108.3 95.5h.01M100.9 82.4h.01M107.0 83.0h.01M100.4 80.7h.01M108.5 92.3h.01M107.6 85.9h.01M97.9 94.7h.01M107.2 85.1h.01M108.3 90.9h.01M99.3 81.0h.01M101.0 83.3h.01M109.0 90.2h.01M97.7 86.4h.01M96.6 87.9h.01M108.5 82.6h.01M105.9 94.7h.01M107.0 96.0h.01M106.4 93.7h.01M105.0 85.1h.01M96.6 91.7h.01M108.3 85.1h.01M98.9 84.1h.01M97.0 93.1h.01M110.6 95.6h.01M108.5 86.1h.01M95.7 92.2h.01M97.7 85.1h.01M96.5 88.5h.01M108.3 81.8h.01M107.8 83.8h.01M108.5 95.8h.01M103.9 80.2h.01M108.0 98.8h.01M103.0 82.3h.01M106.9 89.9h.01M102.4 83.6h.01M106.4 83.5h.01M110.6 94.6h.01M110.2 98.0h.01M106.7 94.0h.01M96.6 83.7h.01M95.8 96.9h.01M106.7 92.2h.01M102.6 81.6h.01M97.2 82.7h.01M107.6 89.0h.01M110.9 97.8h.01M107.8 89.1h.01M108.3 82.2h.01M97.3 90.9h.01M103.4 83.8h.01M109.6 93.8h.01M110.2 99.2h.01M108.1 96.4h.01M95.7 96.2h.01M107.7 88.9h.01M96.3 97.4h.01M103.8 81.0h.01M97.2 91.4h.01M97.5 83.6h.01M106.5 88.4h.01M96.6 94.1h.01M96.4 89.0h.01M102.9 82.4h.01M109.6 91.6h.01M96.6 84.4h.01M97.0 99.1h.01M96.3 84.4h.01M109.9 84.0h.01M105.9 98.2h.01M107.3 81.7h.01M110.6 93.8h.01M103.5 81.7h.01M107.7 97.4h.01M108.7 90.7h.01M108.2 89.6h.01M95.7 94.5h.01M96.0 96.2h.01M108.1 88.8h.01M97.5 92.6h.01M110.6 90.5h.01M101.0 81.5h.01M106.8 96.6h.01M97.9 91.7h.01M110.7 95.0h.01M97.4 93.4h.01M109.7 94.3h.01M107.9 97.9h.01M108.5 93.9h.01M96.1 93.2h.01M108.7 88.2h.01M109.1 83.2h.01M110.1 88.4h.01M106.5 84.7h.01M97.1 88.5h.01M110.7 92.7h.01M110.0 94.8h.01M108.5 99.5h.01M107.2 85.1h.01M109.3 95.5h.01M103.8 81.7h.01M108.3 85.9h.01M105.3 86.9h.01M110.0 87.8h.01M109.7 93.4h.01M98.9 85.3h.01M98.3 88.4h.01M106.2 93.4h.01M107.1 94.7h.01M99.4 84.7h.01M96.0 93.4h.01M98.8 84.8h.01M110.5 92.5h.01M106.3 85.7h.01M97.1 85.7h.01M106.8 81.5h.01M110.0 86.4h.01M108.4 84.1h.01M108.8 95.7h.01M105.9 85.2h.01M105.8 91.3h.01M105.8 83.2h.01M110.7 87.3h.01M108.7 82.2h.01M110.4 86.9h.01M106.7 82.4h.01M107.7 84.6h.01M98.6 84.0h.01M105.8 96.3h.01M102.4 81.9h.01M97.4 89.2h.01M98.3 84.2h.01M102.4 82.0h.01M96.6 86.8h.01M96.7 84.0h.01M107.1 90.9h.01M109.0 98.8h.01M110.1 90.1h.01M99.3 83.0h.01M108.9 83.8h.01M96.9 84.9h.01M109.8 88.8h.01M106.9 81.1h.01M105.8 86.8h.01M97.4 99.3h.01M103.0 83.2h.01M95.8 92.7h.01M103.5 80.1h.01M105.6 82.5h.01M108.0 98.5h.01M107.0 96.7h.01M96.9 83.9h.01M96.2 88.4h.01M97.8 83.4h.01M107.1 91.3h.01M110.1 87.6h.01M111.0 88.7h.01M96.0 87.1h.01" stroke="#1a1a1a" stroke-opacity="0.4" stroke-width="1.0" stroke-linecap="round" fill="none" filter="url(#soft2)"/>
<path d="M98.3 99.6C97.1 97.8 98.1 91.3 98.3 89.0C98.5 86.7 98.7 86.8 99.2 86.0C99.7 85.2 100.6 84.6 101.3 84.3C102.0 84.0 102.7 84.1 103.3 84.4C103.9 84.7 104.6 85.2 105.0 86.0C105.4 86.8 105.6 86.7 105.7 89.0C105.8 91.3 106.9 97.8 105.7 99.6C104.5 101.4 99.5 101.4 98.3 99.6Z" fill="#cdcdcd" fill-opacity="0.95" filter="url(#soft2)"/>
<path d="M100.6 99.5V90Q100.6 87 102.2 87Q103.8 87 103.8 90V99.5Z" fill="#c4c4c4" fill-opacity="0.8"/>
<rect x="145.4" y="18" width="83.5" height="82.6" fill="#fff" stroke="#a6a6a6" stroke-width="0.75"/>
<path d="M193 18V100.6M145.4 66.2H228.9" stroke="#acacac" stroke-width="0.7" fill="none"/>
<path d="M145.4 38.6h1.5M166.3 100.6v-1.5M145.4 59.3h1.5M187.2 100.6v-1.5M145.4 79.9h1.5M208.0 100.6v-1.5" stroke="#666" stroke-width="0.6" fill="none"/>
<path d="M146.4 100.6v-0.8M148.4 100.6v-0.8M150.4 100.6v-1.2M152.9 100.6v-1.2M155.9 100.6v-0.8M158.9 100.6v-0.8M161.4 100.6v-0.8M162.9 100.6v-0.8M165.9 100.6v-0.8M167.9 100.6v-1.2M169.9 100.6v-1.2M172.4 100.6v-0.8M174.4 100.6v-0.8M177.4 100.6v-0.8M178.9 100.6v-1.2M181.9 100.6v-0.8M184.4 100.6v-1.2M186.4 100.6v-0.8M188.9 100.6v-1.2M191.9 100.6v-0.8M193.4 100.6v-0.8M194.9 100.6v-0.8M197.4 100.6v-0.8M199.9 100.6v-0.8M201.9 100.6v-0.8M203.4 100.6v-1.2M206.4 100.6v-0.8M207.9 100.6v-0.8M209.9 100.6v-0.8M212.4 100.6v-1.2M214.4 100.6v-0.8M215.9 100.6v-1.2M218.4 100.6v-1.2M221.4 100.6v-0.8M223.9 100.6v-1.2M225.9 100.6v-0.8" stroke="#777" stroke-width="0.5" stroke-opacity="0.7" fill="none"/>
<path d="M137 16.3V108.3H230.1" stroke="#111" stroke-width="1.0" fill="none"/>
<path d="M133.0 23.1L137 16.3L141.0 23.1" stroke="#000" stroke-width="2.45" fill="none" stroke-linejoin="miter"/>
<path d="M223.29999999999998 104.3L230.1 108.3L223.29999999999998 112.3" stroke="#000" stroke-width="2.45" fill="none" stroke-linejoin="miter"/>
<text x="185" y="14.5" font-size="13.4" text-anchor="middle" fill="#111" stroke="#111" stroke-width="0.22">CD8<tspan font-size="7.7" dx="0.5" dy="-3.8" stroke="#111" stroke-width="0.35">+</tspan><tspan dy="3.8"></tspan></text>
<text x="194" y="122.5" font-size="11.5" text-anchor="middle" font-weight="normal" fill="#111" stroke="#111" stroke-width="0.3">CD8</text>
<text transform="translate(132.2 62.8) rotate(-90)" font-size="11.1" text-anchor="middle" fill="#111" stroke="#111" stroke-width="0.3">FoxP3</text>
<text x="202.6" y="26.8" font-size="9.3" text-anchor="start" font-weight="normal" fill="#111" stroke="#111" stroke-width="0.25" textLength="19.6" lengthAdjust="spacingAndGlyphs">2.0%</text>
<path d="M216.1 46.0h.01M215.8 41.4h.01M218.3 48.9h.01M214.3 50.2h.01M216.7 44.8h.01M210.6 52.4h.01M220.3 44.6h.01M210.7 47.5h.01M222.6 44.9h.01M221.0 52.3h.01M210.4 45.8h.01M217.2 51.6h.01M210.0 51.2h.01M210.8 49.9h.01M206.0 57.0h.01M209.3 40.6h.01M216.6 49.8h.01M217.0 43.2h.01M211.3 43.3h.01M210.8 47.8h.01M210.7 45.8h.01M213.8 43.4h.01M215.5 41.2h.01M211.0 40.7h.01M212.3 48.0h.01M211.7 44.4h.01M211.5 46.0h.01M213.6 52.0h.01M214.0 43.1h.01M216.4 42.2h.01M214.2 48.0h.01M208.9 48.4h.01M213.7 45.6h.01M217.1 43.6h.01M210.0 49.4h.01M219.4 48.1h.01M214.3 45.4h.01M213.6 49.2h.01M216.8 54.3h.01M214.1 44.0h.01M215.0 47.0h.01M215.5 48.2h.01M212.3 47.1h.01M212.0 49.4h.01M213.5 38.9h.01M209.8 54.5h.01M213.4 49.9h.01M214.6 47.3h.01M215.3 46.5h.01M215.6 44.2h.01M211.8 46.8h.01M205.7 39.6h.01M215.5 40.7h.01M215.4 43.3h.01M213.4 47.5h.01M213.1 48.2h.01M212.4 47.0h.01M217.0 52.5h.01M210.1 48.1h.01M215.4 41.8h.01M215.3 42.9h.01M213.1 47.1h.01M215.7 45.7h.01M215.6 43.2h.01M213.6 42.2h.01M210.7 46.3h.01M215.8 47.8h.01M217.5 47.5h.01M214.9 52.8h.01M211.5 47.5h.01M217.5 57.2h.01M220.7 46.6h.01M214.4 47.8h.01M210.7 47.6h.01M212.2 41.1h.01M211.8 40.1h.01M210.4 49.7h.01M211.6 53.1h.01M212.5 49.8h.01M212.5 49.4h.01M215.7 51.7h.01M213.6 47.8h.01M211.1 53.0h.01M212.3 39.1h.01M212.1 42.7h.01M213.1 48.2h.01M211.1 42.2h.01M212.5 47.4h.01M214.9 42.4h.01M207.5 49.2h.01M216.8 45.3h.01M212.5 42.2h.01M214.6 40.6h.01M213.2 48.0h.01M213.8 45.1h.01M215.2 45.8h.01M218.6 39.5h.01M212.5 46.3h.01M213.2 45.8h.01M210.1 40.4h.01M212.0 43.8h.01M211.8 46.5h.01M211.9 40.9h.01M213.5 45.8h.01M217.7 43.7h.01M208.6 45.7h.01M211.1 53.4h.01M210.9 44.4h.01M213.8 50.6h.01M215.4 41.1h.01M209.1 53.0h.01M209.6 48.1h.01M220.2 51.9h.01M218.5 44.5h.01M211.8 48.6h.01M216.0 53.3h.01M213.8 42.9h.01M215.3 53.4h.01M213.6 38.1h.01M207.0 47.2h.01M207.7 46.2h.01M217.5 47.6h.01M215.6 41.3h.01M218.1 46.0h.01M211.5 52.6h.01M216.5 42.0h.01M213.0 45.7h.01M216.0 46.8h.01M210.4 52.5h.01M213.6 47.9h.01M224.7 50.0h.01M214.0 50.2h.01M219.5 40.3h.01M212.1 51.9h.01M211.5 48.8h.01M214.1 46.6h.01M211.1 40.9h.01M214.1 41.8h.01M218.8 43.0h.01M212.9 45.8h.01M215.2 45.3h.01M215.3 49.5h.01M210.7 46.7h.01M211.0 48.1h.01M213.9 53.0h.01M213.1 45.6h.01M215.2 45.3h.01M211.2 52.9h.01M218.7 39.2h.01M216.5 43.3h.01M218.6 43.1h.01M218.6 37.7h.01M217.1 45.3h.01M208.3 48.3h.01M216.4 41.4h.01M212.8 47.9h.01M218.7 52.3h.01M214.2 46.3h.01M210.5 50.7h.01M212.5 46.8h.01M216.6 42.5h.01M212.2 50.9h.01M210.2 50.7h.01M216.9 43.5h.01M212.3 50.1h.01M216.5 41.4h.01M209.2 53.7h.01M204.3 38.8h.01M214.6 45.9h.01M213.1 47.0h.01M215.9 46.0h.01M214.7 51.5h.01M217.9 44.3h.01M216.7 42.5h.01M210.3 45.0h.01M212.9 46.4h.01M221.8 57.2h.01M214.7 49.8h.01M208.2 46.2h.01M218.3 50.9h.01M212.7 46.0h.01M208.3 53.7h.01M213.4 44.5h.01M212.7 45.6h.01M211.1 48.5h.01M217.6 46.6h.01M217.4 46.0h.01M213.6 46.2h.01M216.7 43.0h.01M209.1 51.9h.01M215.2 45.4h.01M218.3 47.4h.01M214.8 45.5h.01M212.6 46.3h.01M217.3 48.4h.01M218.8 42.4h.01M212.4 40.8h.01M214.4 51.0h.01M214.9 49.0h.01M215.6 50.2h.01M215.4 47.2h.01M211.9 41.9h.01M213.8 49.5h.01M212.8 45.9h.01M214.5 39.9h.01M215.2 45.5h.01M214.4 42.1h.01M214.3 54.0h.01M213.8 49.2h.01M219.9 39.1h.01M213.3 44.9h.01M209.3 48.0h.01M214.9 54.0h.01M210.1 48.9h.01M213.4 46.8h.01M218.1 41.0h.01M217.0 43.8h.01M211.1 48.5h.01M214.7 49.2h.01M210.3 45.7h.01M211.6 33.9h.01M214.5 54.6h.01M211.4 50.1h.01M211.9 51.9h.01M211.9 47.5h.01M212.2 45.7h.01M212.6 50.7h.01M216.6 41.2h.01M210.5 44.4h.01M212.9 51.4h.01M209.7 47.6h.01M211.2 46.8h.01M211.7 49.9h.01M215.0 47.6h.01M213.3 43.3h.01M211.8 39.6h.01M211.3 43.3h.01M215.7 42.6h.01M219.2 48.6h.01M209.7 47.5h.01M212.4 41.1h.01M218.0 45.2h.01M216.3 51.5h.01M213.6 46.5h.01M211.8 41.8h.01M212.1 43.3h.01M211.6 51.3h.01M214.7 53.7h.01M215.9 50.9h.01M212.0 44.2h.01M218.3 53.2h.01M218.1 46.0h.01M214.8 42.9h.01M213.0 51.5h.01M217.7 47.4h.01M214.4 43.5h.01M215.1 46.1h.01M213.5 52.1h.01M207.6 43.7h.01M219.5 47.5h.01M219.1 49.7h.01M213.2 46.4h.01M215.7 44.8h.01M205.8 47.1h.01M212.7 47.9h.01M215.0 53.0h.01M215.4 49.4h.01M214.3 50.9h.01M219.9 54.0h.01M214.9 45.8h.01M216.2 50.7h.01M219.2 45.7h.01M217.3 52.8h.01M217.3 47.9h.01M213.2 42.7h.01M210.0 42.3h.01M214.3 48.6h.01M213.2 48.3h.01M214.1 47.7h.01M211.2 52.1h.01M215.4 50.6h.01M215.3 48.4h.01M208.7 54.0h.01M214.1 48.7h.01M215.4 44.1h.01M210.6 49.1h.01M212.9 46.9h.01M210.3 39.4h.01M217.1 53.9h.01M214.9 41.5h.01M211.6 43.3h.01M208.4 40.9h.01M214.5 42.0h.01M214.0 46.4h.01M212.9 47.1h.01M210.4 42.5h.01M211.7 46.6h.01M219.1 48.8h.01M209.8 46.3h.01M212.9 44.7h.01M211.2 43.2h.01M218.1 44.0h.01M219.5 44.0h.01M210.3 51.5h.01M214.8 50.3h.01M212.0 43.8h.01M209.3 47.5h.01M215.5 46.5h.01M215.3 45.2h.01M215.9 46.7h.01M211.3 42.2h.01M217.9 46.9h.01M211.4 51.8h.01M208.1 44.2h.01M211.4 51.2h.01M205.8 44.1h.01M219.8 37.7h.01M207.4 47.2h.01M216.9 48.0h.01M216.6 48.8h.01M212.5 51.3h.01M213.5 46.4h.01M212.1 45.7h.01M208.8 52.4h.01M210.8 44.2h.01M218.0 42.0h.01M216.7 48.9h.01M213.0 47.6h.01M215.0 44.0h.01M215.9 48.0h.01M214.0 44.2h.01M209.7 46.6h.01M208.0 45.7h.01M211.9 41.5h.01M212.8 52.3h.01M211.5 52.2h.01M210.9 37.5h.01M219.6 48.9h.01M214.6 43.8h.01M208.3 42.1h.01M213.0 37.6h.01M209.8 52.9h.01M215.2 44.4h.01M210.0 46.6h.01M214.9 47.1h.01M215.3 39.0h.01M214.6 52.0h.01M214.6 45.7h.01M212.0 54.0h.01M207.2 40.6h.01M210.2 41.6h.01M209.7 40.9h.01M213.5 49.1h.01M215.6 45.3h.01M215.1 44.6h.01M213.5 48.2h.01M219.5 58.0h.01M210.2 58.5h.01M216.6 48.3h.01M207.5 39.6h.01M214.4 50.7h.01M210.8 47.4h.01M216.6 48.2h.01M211.4 43.1h.01M211.5 46.3h.01M213.4 51.5h.01M215.7 49.1h.01M219.2 41.3h.01M216.6 44.2h.01M217.5 44.8h.01M216.7 49.5h.01M216.5 46.2h.01M212.8 48.3h.01M212.4 48.1h.01M217.4 45.9h.01M213.0 50.2h.01M211.8 45.7h.01M214.0 43.4h.01M205.6 49.3h.01M210.6 47.8h.01" stroke="#222" stroke-opacity="0.5" stroke-width="1.1" stroke-linecap="round" fill="none" filter="url(#soft2)"/>
<path d="M215.7 31.2h.01M210.5 39.7h.01M216.9 45.1h.01M222.3 44.4h.01M214.9 50.9h.01M215.0 52.3h.01M210.4 36.7h.01M207.2 43.3h.01M213.6 49.5h.01M203.5 46.1h.01M213.1 42.0h.01M217.1 50.6h.01M216.4 49.6h.01M204.6 42.1h.01M211.2 65.4h.01M217.5 49.9h.01M220.9 40.6h.01M207.0 46.4h.01M211.0 38.9h.01M216.6 55.0h.01M227.1 45.9h.01M213.7 51.6h.01M219.2 53.2h.01M211.9 30.0h.01M210.1 41.0h.01M214.5 46.9h.01M204.7 41.0h.01M202.1 52.8h.01M219.1 41.9h.01M201.2 53.0h.01M214.5 47.2h.01M219.5 49.4h.01M206.7 45.7h.01M208.7 51.7h.01M222.7 58.3h.01M207.4 53.2h.01M214.9 50.3h.01M221.9 54.8h.01M217.0 51.1h.01M210.3 45.7h.01M205.7 47.2h.01M213.0 36.0h.01M213.3 50.7h.01M213.6 46.7h.01M217.8 43.1h.01M214.8 34.2h.01M207.2 43.2h.01M211.1 47.3h.01M213.1 48.9h.01M216.9 45.0h.01M212.3 58.7h.01M213.2 40.8h.01M222.6 52.4h.01M223.1 52.3h.01M203.7 50.4h.01M216.3 53.4h.01M215.8 45.7h.01M198.1 45.7h.01M206.5 42.8h.01M223.6 46.3h.01M212.4 34.4h.01M214.3 41.6h.01M215.0 47.5h.01M202.3 45.5h.01M215.4 53.5h.01M213.6 51.6h.01M212.6 54.5h.01M213.5 54.6h.01M210.1 37.4h.01M218.4 51.1h.01M207.8 45.7h.01M209.8 50.9h.01M209.9 41.8h.01M219.6 48.7h.01M214.4 44.9h.01M214.9 48.2h.01M214.8 52.0h.01M208.6 42.2h.01" stroke="#222" stroke-opacity="0.25" stroke-width="0.8" stroke-linecap="round" fill="none" filter="url(#soft2)"/>
<path d="M207.7 82.5h.01M222.9 98.6h.01M203.0 84.7h.01M218.6 92.1h.01M212.8 85.4h.01M216.8 91.5h.01M209.2 86.5h.01M207.6 74.1h.01M210.7 84.9h.01M211.7 82.4h.01M209.5 92.9h.01M213.4 80.8h.01M211.9 83.8h.01M205.9 89.9h.01M215.9 95.4h.01M205.4 90.5h.01M218.6 81.5h.01M209.8 92.0h.01M211.1 84.7h.01M210.7 92.5h.01M212.1 85.6h.01M206.8 98.0h.01M216.6 77.1h.01M194.8 81.2h.01M193.8 95.1h.01M212.9 73.1h.01M204.1 86.6h.01M214.6 93.3h.01M190.2 79.2h.01M202.5 80.0h.01M211.0 89.2h.01M201.5 92.6h.01M215.6 89.8h.01M217.2 95.6h.01M203.6 90.6h.01M199.2 89.8h.01M216.1 80.8h.01M204.4 86.2h.01M210.9 86.2h.01M209.7 95.0h.01M205.3 76.2h.01M217.1 78.4h.01M207.1 88.9h.01M203.5 97.0h.01M219.2 67.7h.01M199.6 93.4h.01M209.8 95.6h.01M218.8 89.1h.01M206.1 94.9h.01M201.1 92.2h.01M220.9 77.7h.01M205.7 95.6h.01M207.8 75.2h.01M211.3 91.4h.01M213.6 89.1h.01M206.1 95.1h.01M215.6 86.3h.01M212.3 91.8h.01M203.0 78.2h.01M208.5 90.3h.01M207.6 82.7h.01M214.2 89.1h.01M216.9 90.8h.01M217.1 99.5h.01M206.6 87.8h.01M208.9 97.5h.01M217.0 87.3h.01M209.7 84.1h.01M208.4 91.8h.01M220.8 90.8h.01M212.5 98.1h.01M205.4 85.4h.01M219.0 95.3h.01M213.0 83.2h.01M198.2 90.5h.01M212.6 85.3h.01M202.4 83.8h.01M211.8 85.2h.01M205.0 89.5h.01M189.4 97.2h.01M211.1 87.3h.01M210.9 95.1h.01M201.8 94.9h.01M204.4 91.4h.01M210.6 99.3h.01M201.2 86.8h.01M207.4 96.5h.01M208.2 79.2h.01M220.3 89.0h.01M200.8 90.6h.01M214.3 97.6h.01M192.8 91.8h.01M221.7 86.2h.01M209.8 69.1h.01M214.3 83.2h.01M217.4 79.1h.01M223.8 95.1h.01M210.3 88.7h.01M203.5 92.7h.01M215.7 84.4h.01M202.5 97.3h.01M216.9 93.8h.01M214.4 92.3h.01M205.2 86.6h.01M199.7 98.1h.01M202.8 81.9h.01M201.8 79.4h.01M213.7 81.6h.01M220.0 86.9h.01M216.8 97.1h.01M213.1 91.1h.01M224.8 90.4h.01M210.1 88.7h.01M214.6 87.9h.01M203.5 86.5h.01M209.8 92.9h.01M208.8 83.4h.01M221.1 80.7h.01M216.4 90.8h.01M214.7 83.4h.01M208.3 89.4h.01M197.9 83.9h.01M207.5 87.2h.01M212.1 92.6h.01M213.1 79.2h.01M206.4 74.9h.01M202.3 74.4h.01M207.8 97.6h.01M207.6 75.3h.01M214.3 92.1h.01M208.5 93.1h.01M222.2 85.7h.01M222.3 82.4h.01M204.6 76.4h.01M208.5 91.8h.01M214.9 80.5h.01M206.0 86.5h.01M225.3 94.8h.01M218.6 93.4h.01M201.0 81.3h.01M206.1 87.7h.01M210.9 85.1h.01M224.2 77.1h.01M219.6 89.6h.01M210.4 91.4h.01M213.5 80.2h.01M210.3 93.1h.01M206.1 98.4h.01M207.0 85.4h.01M221.1 89.8h.01M220.3 91.9h.01M207.2 82.0h.01M209.7 84.6h.01M195.2 75.2h.01M209.3 87.7h.01M215.4 90.4h.01M205.7 80.2h.01M198.3 78.2h.01M203.5 94.8h.01M200.9 98.1h.01M217.9 71.4h.01M211.0 94.2h.01M218.0 85.3h.01M214.0 93.1h.01M213.0 89.0h.01M198.5 93.2h.01M203.7 89.8h.01M200.3 89.1h.01M211.3 73.8h.01M208.1 80.2h.01M214.4 95.9h.01M223.9 78.2h.01M216.6 99.3h.01M206.0 90.3h.01M214.7 87.0h.01M219.6 84.2h.01M210.1 98.4h.01M214.4 84.3h.01M207.9 91.3h.01M208.1 98.5h.01M213.3 82.2h.01M215.0 72.8h.01M215.8 95.7h.01M196.2 81.4h.01M208.7 83.4h.01M208.5 84.8h.01M217.4 86.4h.01M197.0 91.1h.01M208.3 79.7h.01M212.4 84.2h.01M205.8 98.5h.01M204.8 90.6h.01M219.1 95.5h.01M212.2 84.0h.01M206.1 85.3h.01M205.1 80.7h.01M215.2 81.7h.01M217.8 80.6h.01M216.0 93.1h.01M222.0 69.1h.01M203.6 80.1h.01M214.0 86.2h.01M208.1 91.1h.01M216.9 66.9h.01M213.3 93.7h.01M210.8 85.3h.01M196.6 80.5h.01M211.5 93.1h.01M209.6 93.1h.01M225.7 88.0h.01M210.9 93.9h.01M215.2 82.3h.01M210.4 72.0h.01M218.8 96.8h.01M202.2 90.7h.01M215.0 88.8h.01M206.4 93.6h.01M202.2 95.5h.01M205.1 86.8h.01M201.5 93.5h.01M214.1 75.6h.01M205.9 78.5h.01M198.4 85.4h.01M220.8 79.7h.01M210.5 90.5h.01M206.5 87.8h.01M204.0 72.3h.01M209.2 88.4h.01M209.5 97.2h.01M212.5 92.4h.01M215.9 73.2h.01M200.9 92.6h.01M213.6 86.2h.01M209.6 88.4h.01M208.0 95.5h.01M208.4 78.5h.01M210.3 91.0h.01M212.7 89.0h.01M215.6 89.8h.01M213.0 76.3h.01M211.6 91.0h.01M195.6 67.5h.01M219.5 81.7h.01M202.6 80.4h.01M209.1 71.0h.01M215.8 94.0h.01M202.4 88.7h.01M222.5 99.3h.01M206.6 91.7h.01M199.0 89.6h.01M203.9 94.7h.01M197.6 82.8h.01M201.3 82.0h.01M214.0 94.5h.01M204.9 83.2h.01M206.6 85.0h.01M213.3 93.1h.01M211.9 84.5h.01M212.9 88.3h.01M202.2 80.3h.01M213.8 71.0h.01M199.0 93.0h.01M220.1 96.6h.01M203.1 93.3h.01M215.3 74.7h.01M201.8 98.8h.01M211.4 89.0h.01M200.0 87.7h.01M213.5 78.7h.01M207.9 86.1h.01M201.3 91.8h.01M192.3 79.5h.01M200.1 84.9h.01M209.2 90.6h.01M215.6 93.5h.01M205.6 85.6h.01M217.3 74.5h.01M207.5 82.1h.01M208.7 87.3h.01M204.0 89.9h.01M200.5 84.4h.01M206.9 87.8h.01M203.6 87.3h.01M205.9 93.1h.01M212.9 82.2h.01M208.1 93.6h.01M217.2 83.1h.01M202.2 81.9h.01M210.4 96.5h.01M193.5 92.2h.01M217.8 76.7h.01M215.8 95.6h.01M218.8 98.5h.01M215.4 88.6h.01M208.1 80.8h.01M204.0 70.9h.01M206.5 90.9h.01M206.5 82.5h.01M211.4 83.2h.01M204.6 80.4h.01M197.0 96.2h.01M216.7 85.9h.01M208.2 83.2h.01M205.5 79.1h.01M215.7 87.0h.01M206.1 81.2h.01M204.5 92.9h.01M215.3 95.4h.01M205.3 96.7h.01M212.8 88.8h.01M208.9 85.1h.01M206.0 86.2h.01M202.3 98.8h.01M216.0 82.4h.01M205.3 97.4h.01M224.6 86.3h.01M213.5 97.2h.01M211.3 91.1h.01M216.7 81.8h.01M196.1 90.2h.01M206.1 87.3h.01M191.5 81.0h.01M217.1 68.4h.01M209.3 91.2h.01M214.7 86.2h.01M202.6 89.8h.01M201.7 77.7h.01M224.0 98.7h.01M205.7 91.4h.01M203.5 83.1h.01M200.9 93.7h.01M216.4 92.7h.01M210.6 90.7h.01M208.4 87.1h.01M216.6 76.6h.01M201.7 81.9h.01M197.6 79.4h.01M206.1 88.4h.01M198.1 98.1h.01M203.7 89.7h.01M211.6 90.9h.01M222.2 86.6h.01M206.7 81.8h.01M205.8 90.1h.01M207.4 99.8h.01M217.9 90.8h.01M208.0 87.9h.01M215.1 85.8h.01M208.9 96.4h.01M202.4 86.7h.01M201.1 90.1h.01M219.4 82.1h.01M211.6 91.5h.01M209.5 76.0h.01M208.7 82.7h.01M212.6 99.5h.01M212.4 94.7h.01M208.9 78.9h.01M222.8 92.4h.01M210.9 85.5h.01M207.5 89.0h.01M224.2 91.2h.01M209.6 78.5h.01M214.4 91.0h.01M211.4 90.0h.01M204.6 91.9h.01M205.0 81.9h.01M223.6 93.8h.01M211.9 88.1h.01M211.8 79.7h.01M223.3 90.6h.01M218.4 75.4h.01M201.9 88.6h.01M207.8 90.6h.01M205.6 92.8h.01M219.5 85.1h.01M195.1 98.9h.01M201.4 88.0h.01M212.5 90.2h.01M205.5 80.1h.01M202.4 91.9h.01M221.2 90.0h.01M198.3 90.6h.01M213.4 82.4h.01M204.2 82.8h.01M201.4 81.2h.01M217.9 88.2h.01M215.2 83.5h.01M206.8 88.7h.01M203.4 80.1h.01M215.7 90.2h.01M198.2 97.9h.01M213.1 76.8h.01M196.9 95.0h.01M203.9 80.1h.01M216.9 98.3h.01M215.6 89.9h.01M208.0 84.1h.01M207.3 76.0h.01M210.5 82.0h.01M213.6 85.4h.01M216.0 76.7h.01M206.1 66.1h.01M211.2 77.0h.01M218.0 99.3h.01M211.4 84.7h.01M196.5 94.2h.01M213.9 86.6h.01M197.2 92.9h.01M215.6 86.4h.01M204.1 95.1h.01M210.7 85.5h.01M219.6 98.6h.01M223.3 88.1h.01M205.2 75.9h.01M208.8 90.7h.01M208.1 87.4h.01M219.9 77.1h.01M198.7 91.4h.01M196.7 89.2h.01M220.6 99.5h.01M213.4 93.6h.01M211.9 86.5h.01M214.6 84.8h.01M213.6 85.0h.01M202.1 91.7h.01M216.8 67.1h.01M213.6 87.4h.01M214.3 99.5h.01M206.9 90.8h.01M206.6 80.2h.01M213.3 77.8h.01M213.9 98.1h.01M207.2 91.3h.01M209.5 86.5h.01M213.3 84.2h.01M209.7 88.8h.01M204.9 99.8h.01M219.2 82.2h.01M213.0 78.6h.01M207.1 89.2h.01M206.4 90.9h.01M225.3 88.7h.01M207.0 90.4h.01M207.8 88.8h.01M219.2 84.1h.01M215.2 93.4h.01M212.8 98.2h.01M204.1 90.9h.01M203.6 90.2h.01M218.5 74.8h.01M216.7 91.4h.01M209.1 91.9h.01M203.0 91.4h.01M211.7 81.5h.01M207.8 85.6h.01M211.8 90.0h.01M203.1 90.9h.01M203.0 88.3h.01M204.7 80.6h.01M210.3 88.8h.01M219.7 77.6h.01M216.3 86.4h.01M204.4 80.1h.01M209.5 84.7h.01M206.8 90.9h.01M206.9 90.2h.01M211.4 77.5h.01M202.6 80.8h.01M212.5 93.4h.01M208.7 88.0h.01M206.8 74.2h.01M208.7 97.8h.01M195.7 88.3h.01M215.2 82.0h.01M208.5 75.7h.01M208.7 84.8h.01M195.8 69.1h.01M208.3 93.0h.01M202.9 96.5h.01M207.0 79.9h.01M203.7 91.2h.01M210.9 94.8h.01" stroke="#222" stroke-opacity="0.28" stroke-width="0.9" stroke-linecap="round" fill="none" filter="url(#soft2)"/>
<path d="M198.8 91.4h.01M220.5 97.4h.01M217.1 85.5h.01M216.2 74.8h.01M216.0 83.5h.01M228.2 77.7h.01M207.9 99.5h.01M219.5 68.2h.01M211.7 83.6h.01M217.2 93.4h.01M196.9 76.7h.01M197.6 74.0h.01M211.7 76.7h.01M225.2 80.3h.01M197.6 90.8h.01M200.8 73.7h.01M198.1 72.0h.01M212.7 91.3h.01M207.1 71.6h.01M205.9 80.9h.01M199.2 69.6h.01M205.9 95.0h.01M208.5 90.6h.01M207.4 99.0h.01M203.9 82.2h.01M200.3 91.8h.01M226.7 96.3h.01M220.4 71.4h.01M218.9 93.4h.01M220.5 69.1h.01M205.2 78.8h.01M204.2 74.7h.01M222.1 85.0h.01M207.9 87.1h.01M205.7 67.3h.01M218.1 81.0h.01M216.2 79.1h.01M211.7 85.6h.01M202.4 73.8h.01M216.2 85.2h.01M211.0 78.6h.01M218.3 96.9h.01M197.8 95.1h.01M214.3 91.4h.01M214.7 89.5h.01M216.1 88.0h.01M211.7 81.1h.01M216.7 86.4h.01M202.0 98.9h.01M210.7 95.9h.01M205.9 92.3h.01M218.3 76.5h.01M218.1 71.5h.01M220.4 93.1h.01M215.9 94.5h.01M204.5 83.0h.01M201.2 96.5h.01M228.1 79.9h.01M195.8 76.6h.01M225.7 73.3h.01M199.9 80.5h.01M204.6 79.1h.01M214.7 98.3h.01M205.2 91.7h.01M208.9 87.9h.01M210.2 96.0h.01M220.6 89.1h.01M225.8 78.2h.01M217.1 98.6h.01M219.4 74.2h.01M202.7 92.3h.01M221.7 75.5h.01M206.5 90.7h.01M216.7 76.2h.01M212.2 98.0h.01M199.6 78.9h.01M216.4 78.1h.01M212.0 80.9h.01M197.9 97.0h.01M211.7 78.9h.01" stroke="#222" stroke-opacity="0.25" stroke-width="0.8" stroke-linecap="round" fill="none" filter="url(#soft2)"/>
<path d="M197.3 99.6C193.9 98.3 197.0 94.4 197.0 92.0C197.0 89.6 197.1 87.0 197.4 85.0C197.7 83.0 197.9 81.2 198.8 79.8C199.7 78.4 201.2 77.6 203.0 76.6C204.8 75.6 207.6 74.6 209.8 73.9C212.0 73.2 214.1 72.8 216.0 72.6C217.9 72.3 219.6 72.1 221.0 72.4C222.4 72.7 223.8 73.1 224.3 74.2C224.9 75.3 224.5 77.4 224.3 79.0C224.2 80.6 223.9 82.2 223.4 84.0C222.9 85.8 222.2 88.2 221.6 90.0C221.0 91.8 220.3 93.4 219.6 95.0C218.9 96.6 221.1 98.8 217.4 99.6C213.7 100.4 200.7 100.9 197.3 99.6Z" fill="#666" fill-opacity="0.6"/>
<path d="M202.0 86.0h.01M221.9 79.0h.01M204.0 91.2h.01M203.4 79.1h.01M203.7 77.8h.01M211.3 76.0h.01M207.3 80.7h.01M218.1 72.9h.01M202.2 87.6h.01M199.8 87.1h.01M205.1 89.4h.01M202.6 81.8h.01M212.9 77.5h.01M216.9 74.1h.01M204.4 84.9h.01M202.7 95.9h.01M208.1 76.1h.01M222.4 80.0h.01M222.3 82.3h.01M199.7 95.5h.01M211.6 77.4h.01M211.1 76.1h.01M198.2 87.5h.01M202.7 81.5h.01M209.0 75.6h.01M201.0 91.0h.01M203.6 86.5h.01M211.1 76.4h.01M204.1 80.5h.01M200.1 85.9h.01M198.0 87.8h.01M203.4 90.6h.01M221.7 84.5h.01M219.1 93.9h.01M207.0 81.9h.01M219.3 91.6h.01M218.4 97.3h.01M202.9 92.1h.01M200.6 91.3h.01M221.4 74.9h.01M198.8 96.1h.01M222.6 77.2h.01M205.8 78.0h.01M220.6 87.0h.01M201.1 99.1h.01M204.3 97.2h.01M205.0 91.5h.01M202.8 88.9h.01M201.2 82.3h.01M198.3 94.9h.01M214.6 77.2h.01M222.0 81.5h.01M202.6 99.1h.01M219.5 75.9h.01M200.8 89.9h.01M204.2 90.7h.01M205.1 86.0h.01M198.5 92.7h.01M197.6 87.8h.01M220.6 74.5h.01M204.5 89.0h.01M203.4 93.6h.01M199.3 82.8h.01M204.3 89.4h.01M221.5 87.4h.01M211.0 76.1h.01M223.0 83.8h.01M212.8 76.9h.01M201.3 96.7h.01M201.8 84.6h.01M209.2 77.3h.01M205.3 76.1h.01M205.8 78.9h.01M199.6 92.8h.01M222.6 83.9h.01M222.9 79.5h.01M198.5 92.8h.01M209.3 76.2h.01M198.9 96.0h.01M222.3 80.1h.01M222.0 77.3h.01M221.9 87.0h.01M200.6 79.2h.01M203.5 78.5h.01M219.1 72.5h.01M198.0 84.3h.01M200.4 89.4h.01M200.5 88.7h.01M216.4 98.8h.01M197.8 85.8h.01M222.0 85.2h.01M199.4 83.3h.01M203.4 90.2h.01M202.9 84.1h.01M202.7 78.9h.01M203.6 81.7h.01M208.0 80.2h.01M199.7 98.2h.01M197.8 92.0h.01M203.3 82.4h.01M217.5 98.1h.01M219.3 76.3h.01M218.6 73.0h.01M203.0 86.1h.01M208.2 79.4h.01M199.0 87.5h.01M218.4 95.5h.01M209.3 78.8h.01M201.9 91.9h.01M220.4 74.0h.01M218.8 94.9h.01M206.4 83.5h.01M200.5 84.4h.01M216.5 99.2h.01M197.7 95.4h.01M204.2 79.0h.01M199.9 84.7h.01M203.3 78.7h.01M199.7 88.3h.01M200.1 84.2h.01M215.6 75.0h.01M203.6 94.0h.01M220.3 74.7h.01M207.3 76.1h.01M220.6 85.9h.01M222.4 80.2h.01M199.6 88.7h.01M221.5 76.7h.01M203.5 84.5h.01M218.5 76.3h.01M203.2 95.1h.01M211.2 77.5h.01M200.4 93.0h.01M206.4 81.2h.01M202.7 90.1h.01M202.3 97.8h.01M202.5 97.0h.01M217.3 95.4h.01M198.6 90.5h.01M197.4 91.6h.01M219.8 92.7h.01M213.0 76.7h.01M219.8 91.8h.01M221.3 72.9h.01M218.0 74.4h.01M221.0 86.9h.01M203.1 91.1h.01M215.9 98.7h.01M212.5 76.9h.01M203.4 77.1h.01M202.5 99.1h.01M202.6 84.7h.01M222.6 78.7h.01M207.6 78.6h.01M222.4 82.9h.01M199.4 91.3h.01M200.4 96.5h.01M203.5 81.8h.01M205.2 97.0h.01M201.4 87.1h.01M219.2 91.0h.01M220.4 76.1h.01M204.2 81.3h.01M201.0 86.1h.01M214.8 74.6h.01M210.2 76.1h.01M222.7 84.7h.01M202.0 87.1h.01M202.2 88.8h.01M202.3 88.0h.01M200.2 84.5h.01M200.2 87.7h.01M223.7 80.0h.01M202.4 83.4h.01M200.2 83.7h.01M203.9 83.6h.01M220.6 76.5h.01M215.1 76.3h.01M202.0 83.0h.01M217.6 75.3h.01M223.3 82.6h.01M201.4 90.9h.01M222.3 73.6h.01M205.2 78.0h.01M201.5 83.2h.01M221.8 84.1h.01M205.2 98.8h.01M220.6 91.3h.01M198.2 85.9h.01M199.0 96.4h.01M204.6 81.6h.01M199.3 82.4h.01M201.1 93.6h.01M205.8 83.6h.01M203.1 81.4h.01M200.6 87.7h.01M221.6 80.8h.01M210.8 77.9h.01M211.1 78.7h.01M210.2 77.2h.01M198.9 93.2h.01M199.7 85.8h.01M221.9 75.8h.01M219.7 91.4h.01M202.5 85.9h.01M205.0 95.6h.01M203.8 89.7h.01M202.7 93.8h.01M206.4 80.2h.01M222.4 73.8h.01M205.7 85.0h.01M203.3 79.3h.01M201.3 93.6h.01M220.8 75.5h.01M203.7 98.9h.01M202.9 96.1h.01M201.6 80.9h.01M205.8 82.7h.01M223.1 83.4h.01M199.3 99.5h.01M201.4 92.5h.01M199.7 91.4h.01M219.4 75.8h.01M219.8 74.9h.01M207.9 81.6h.01M203.4 88.6h.01M212.2 73.7h.01M206.1 82.0h.01M223.1 79.0h.01M210.3 78.2h.01M200.7 93.3h.01M215.8 98.5h.01M212.7 78.1h.01M222.0 75.0h.01M206.2 78.9h.01M202.0 77.7h.01M198.4 92.5h.01M204.9 92.3h.01M197.9 97.2h.01M198.9 84.7h.01M198.6 90.9h.01M220.0 88.2h.01M203.5 81.4h.01M200.7 80.6h.01M204.2 80.5h.01M207.3 78.6h.01M199.4 84.9h.01M218.5 75.6h.01M198.5 98.1h.01M207.7 81.2h.01M223.2 74.7h.01M197.5 87.3h.01M206.8 79.2h.01M201.4 83.0h.01M213.9 73.6h.01M201.0 81.8h.01M215.5 74.8h.01M204.3 98.5h.01M199.9 93.8h.01M219.8 92.3h.01M200.9 87.1h.01M204.0 80.5h.01M203.1 87.7h.01M222.1 80.8h.01M211.7 76.8h.01M205.1 82.3h.01M198.6 96.2h.01M214.4 75.3h.01M212.9 74.4h.01M200.1 94.6h.01M210.9 74.4h.01M209.0 75.5h.01M201.3 99.2h.01M198.7 90.6h.01M213.5 77.9h.01M199.7 80.3h.01M211.8 75.7h.01M209.7 79.0h.01M220.6 92.0h.01M205.5 82.5h.01M202.8 93.8h.01M210.4 77.5h.01M197.4 88.1h.01M202.7 81.1h.01M200.7 82.0h.01M202.1 85.1h.01M198.9 85.5h.01M211.7 73.8h.01M201.8 99.4h.01M202.8 96.5h.01M202.6 86.8h.01M199.3 83.4h.01M198.2 83.5h.01M216.2 99.0h.01M200.0 85.0h.01M220.3 74.1h.01M222.2 77.7h.01M206.5 81.8h.01M222.1 78.2h.01M211.6 75.7h.01M221.5 85.8h.01M205.1 85.5h.01M218.8 95.1h.01M217.6 74.7h.01M199.0 85.8h.01M199.0 83.3h.01M198.7 97.0h.01M205.5 99.4h.01M220.6 74.2h.01M201.5 84.2h.01M204.8 79.7h.01M205.6 76.1h.01M202.5 80.0h.01M219.6 90.1h.01M219.8 76.6h.01M218.0 73.9h.01M201.3 97.8h.01M211.0 77.7h.01M200.8 86.3h.01M198.0 91.2h.01M220.9 73.6h.01M198.5 90.5h.01M211.7 76.1h.01M203.1 98.7h.01M200.1 87.6h.01M208.9 77.2h.01M223.8 78.2h.01M222.8 74.7h.01M200.3 94.0h.01M199.3 84.0h.01M201.0 86.8h.01M197.4 85.6h.01M205.0 84.2h.01M219.9 89.3h.01M202.9 99.0h.01M203.6 88.9h.01M211.5 75.9h.01M198.0 88.4h.01M199.5 82.6h.01M217.8 97.6h.01M218.6 73.1h.01M208.4 77.5h.01M202.0 91.8h.01M199.6 85.6h.01M201.0 85.2h.01M202.6 89.0h.01M223.7 79.0h.01M220.9 84.2h.01M222.4 74.9h.01M200.9 90.5h.01M222.1 81.2h.01M199.3 92.6h.01M201.1 86.8h.01M198.0 99.0h.01M197.6 86.8h.01M198.9 94.4h.01M216.3 76.5h.01M221.9 87.6h.01M219.0 75.9h.01M199.0 91.4h.01M204.2 91.4h.01M202.8 80.9h.01M210.8 75.9h.01M209.1 75.4h.01M210.5 74.2h.01M203.4 90.5h.01M201.3 78.3h.01M200.4 92.0h.01M198.9 82.4h.01M222.6 82.2h.01M206.8 80.2h.01M223.1 79.5h.01M203.1 94.6h.01M219.7 76.5h.01M201.2 97.2h.01M204.3 92.9h.01M219.9 91.5h.01M209.2 77.0h.01M210.6 76.0h.01M211.7 77.7h.01M223.3 81.2h.01M201.6 86.7h.01M210.5 76.7h.01M206.3 79.9h.01M199.1 89.8h.01M201.9 86.5h.01M222.0 80.5h.01M204.8 84.8h.01M201.1 80.5h.01M218.5 92.9h.01M216.8 73.5h.01M199.5 97.3h.01M199.2 87.5h.01M200.2 90.5h.01M204.3 92.8h.01M205.0 99.6h.01M200.3 91.1h.01M204.9 82.4h.01M199.9 96.3h.01M200.6 94.5h.01M221.5 89.7h.01M203.6 91.6h.01M197.4 95.5h.01M200.7 91.4h.01M203.5 89.0h.01M200.0 83.3h.01M209.9 75.7h.01M207.0 75.8h.01M219.1 91.5h.01M204.2 78.3h.01M198.7 97.0h.01M223.1 84.8h.01M198.2 84.1h.01M202.9 98.5h.01M209.7 79.1h.01M205.5 87.0h.01M205.0 95.0h.01M211.3 75.4h.01M220.2 91.3h.01M221.6 76.2h.01M198.5 81.0h.01M203.2 81.1h.01M217.6 96.9h.01M203.8 83.4h.01M199.2 95.9h.01M201.3 79.2h.01M199.0 95.5h.01M198.0 99.4h.01M198.8 90.5h.01M199.4 89.3h.01M205.2 95.4h.01M198.0 87.4h.01M200.4 92.4h.01M223.5 82.6h.01M201.3 87.0h.01M203.9 85.3h.01M200.5 83.7h.01M202.1 85.9h.01M202.7 94.4h.01M197.8 95.7h.01M203.1 86.4h.01M199.7 96.9h.01M210.6 74.9h.01M220.0 73.2h.01M202.0 95.4h.01M205.3 76.4h.01M219.1 76.3h.01M212.6 76.0h.01M222.4 79.6h.01M218.2 93.4h.01M205.3 83.3h.01M223.3 80.5h.01M198.5 98.5h.01M216.7 74.7h.01M200.9 81.9h.01M223.7 77.3h.01M200.2 97.8h.01M202.1 99.4h.01M211.2 77.6h.01M207.7 78.9h.01M197.7 85.1h.01M198.5 83.1h.01M219.6 76.0h.01M199.9 94.7h.01M222.4 75.6h.01M199.7 81.9h.01M198.8 88.9h.01M220.0 73.2h.01M202.2 90.1h.01M205.9 81.1h.01M202.9 77.5h.01M218.3 97.6h.01M220.6 85.8h.01M202.6 95.7h.01M217.1 76.4h.01M220.8 86.7h.01M202.8 88.4h.01M215.2 74.9h.01M203.4 81.2h.01M199.9 93.0h.01M210.4 77.6h.01M221.0 91.2h.01M201.9 78.6h.01M205.7 82.2h.01M200.2 89.7h.01M199.0 91.4h.01M222.5 84.3h.01M204.5 82.4h.01M201.8 93.9h.01M218.9 93.1h.01M208.5 77.3h.01M212.9 75.0h.01M200.7 92.0h.01M205.3 85.1h.01M199.9 89.2h.01M202.3 97.8h.01M206.4 79.9h.01M198.6 91.7h.01M211.0 78.9h.01M198.6 82.1h.01M201.1 87.8h.01M204.9 85.2h.01M203.9 91.7h.01M203.3 81.5h.01M198.7 82.9h.01M201.8 79.9h.01M201.2 84.9h.01M198.7 91.7h.01M210.4 75.9h.01M214.9 76.5h.01M211.2 75.2h.01M199.5 96.5h.01M209.2 76.2h.01M222.8 79.2h.01M204.4 77.0h.01M206.1 78.7h.01M218.8 93.8h.01M200.9 93.8h.01M208.8 76.6h.01M200.2 79.7h.01M216.7 73.9h.01M203.1 89.6h.01M220.5 88.0h.01M215.8 72.8h.01M201.5 89.8h.01M206.4 78.7h.01M222.7 79.7h.01M202.6 96.3h.01M222.1 81.2h.01M205.7 76.2h.01M204.6 90.6h.01M205.5 82.9h.01M214.5 73.0h.01M201.5 88.4h.01M216.7 99.4h.01M200.0 85.0h.01M202.8 81.4h.01M205.0 83.0h.01M198.2 88.4h.01M201.3 83.1h.01M207.0 82.7h.01M210.2 76.3h.01M203.3 85.0h.01M216.1 97.9h.01M209.9 76.5h.01M222.0 76.5h.01M220.6 92.5h.01M205.2 98.9h.01M205.7 80.4h.01M199.6 91.5h.01M205.1 88.4h.01M203.1 94.4h.01M219.0 76.5h.01M204.2 92.0h.01M219.7 76.2h.01M223.2 77.3h.01M206.3 80.8h.01M218.2 76.6h.01M198.0 84.8h.01M204.9 91.6h.01" stroke="#1a1a1a" stroke-opacity="0.4" stroke-width="1.0" stroke-linecap="round" fill="none" filter="url(#soft2)"/>
<path d="M205.7 99.6C204.0 98.5 205.1 94.9 205.0 93.0C204.9 91.1 205.0 89.7 205.3 88.0C205.6 86.3 206.3 84.1 207.0 82.8C207.7 81.5 208.6 80.9 209.5 80.2C210.4 79.5 211.4 78.9 212.5 78.4C213.6 77.9 214.9 77.5 216.0 77.2C217.1 76.9 218.4 76.5 219.3 76.6C220.2 76.7 220.9 77.0 221.3 77.6C221.7 78.2 221.6 78.9 221.5 80.0C221.4 81.1 221.3 82.5 221.0 84.0C220.7 85.5 220.1 87.3 219.6 89.0C219.1 90.7 218.5 92.2 217.8 94.0C217.1 95.8 217.2 98.7 215.2 99.6C213.2 100.5 207.4 100.7 205.7 99.6Z" fill="#c6c6c6" fill-opacity="0.95" filter="url(#soft2)"/>
<ellipse cx="212.4" cy="87" rx="1.6" ry="3.6" transform="rotate(18 212.4 87)" fill="#a9a9a9" fill-opacity="0.85"/>
<rect x="258.5" y="17.5" width="83.0" height="82.9" fill="#fff" stroke="#a6a6a6" stroke-width="0.75"/>
<path d="M312.5 17.5V100.4M258.5 44.5H341.5" stroke="#acacac" stroke-width="0.7" fill="none"/>
<path d="M258.5 38.2h1.5M279.2 100.4v-1.5M258.5 59.0h1.5M300.0 100.4v-1.5M258.5 79.7h1.5M320.8 100.4v-1.5" stroke="#666" stroke-width="0.6" fill="none"/>
<path d="M259.5 100.4v-0.8M262.0 100.4v-0.8M263.5 100.4v-0.8M266.5 100.4v-1.2M268.5 100.4v-0.8M271.5 100.4v-0.8M274.5 100.4v-1.2M277.5 100.4v-1.2M280.5 100.4v-0.8M282.5 100.4v-0.8M285.5 100.4v-0.8M287.0 100.4v-0.8M289.5 100.4v-0.8M291.0 100.4v-1.2M293.5 100.4v-1.2M295.0 100.4v-1.2M297.0 100.4v-0.8M300.0 100.4v-1.2M301.5 100.4v-0.8M304.5 100.4v-1.2M306.0 100.4v-0.8M308.0 100.4v-1.2M310.0 100.4v-1.2M313.0 100.4v-0.8M315.5 100.4v-0.8M318.5 100.4v-0.8M321.5 100.4v-1.2M323.5 100.4v-1.2M325.5 100.4v-0.8M327.0 100.4v-0.8M329.5 100.4v-0.8M331.5 100.4v-0.8M334.5 100.4v-1.2M336.0 100.4v-0.8M338.0 100.4v-0.8" stroke="#777" stroke-width="0.5" stroke-opacity="0.7" fill="none"/>
<path d="M249.4 16.7V108.3H342.9" stroke="#111" stroke-width="1.0" fill="none"/>
<path d="M245.4 23.5L249.4 16.7L253.4 23.5" stroke="#000" stroke-width="2.45" fill="none" stroke-linejoin="miter"/>
<path d="M336.09999999999997 104.3L342.9 108.3L336.09999999999997 112.3" stroke="#000" stroke-width="2.45" fill="none" stroke-linejoin="miter"/>
<text x="301" y="13.2" font-size="13.4" text-anchor="middle" fill="#111" stroke="#111" stroke-width="0.22">FoxP3<tspan font-size="7.7" dx="0.5" dy="-3.8" stroke="#111" stroke-width="0.35">+</tspan><tspan dy="3.8"></tspan></text>
<text x="306" y="123.1" font-size="11.5" text-anchor="middle" font-weight="normal" fill="#111" stroke="#111" stroke-width="0.3">CD4</text>
<text transform="translate(245.9 63.4) rotate(-90)" font-size="11.1" text-anchor="middle" fill="#111" stroke="#111" stroke-width="0.3">CD8</text>
<text x="260.7" y="25.8" font-size="9.3" text-anchor="start" font-weight="normal" fill="#111" stroke="#111" stroke-width="0.25" textLength="16.8" lengthAdjust="spacingAndGlyphs">26%</text>
<text x="320.8" y="97.9" font-size="9.3" text-anchor="start" font-weight="normal" fill="#111" stroke="#111" stroke-width="0.25" textLength="17.2" lengthAdjust="spacingAndGlyphs">71%</text>
<path d="M301.5 28.8h.01M283.5 28.1h.01M299.8 29.2h.01M301.9 30.6h.01M290.7 26.5h.01M287.9 34.2h.01M288.5 33.8h.01M279.7 35.5h.01M317.4 32.7h.01M296.0 27.8h.01M288.9 30.0h.01M294.6 25.7h.01M286.3 34.3h.01M294.9 33.5h.01M300.5 27.7h.01M282.2 33.7h.01M293.8 31.7h.01M286.8 34.9h.01M298.0 34.4h.01M290.6 33.7h.01M292.8 28.9h.01M292.4 26.9h.01M292.0 32.1h.01M299.2 28.1h.01M282.0 30.4h.01M275.7 31.1h.01M315.8 30.1h.01M286.9 30.1h.01M308.3 27.0h.01M292.5 31.4h.01M287.1 30.0h.01M279.0 30.3h.01M304.9 34.6h.01M291.3 33.7h.01M297.4 31.5h.01M292.6 35.0h.01M298.3 30.5h.01M291.7 34.3h.01M288.3 29.9h.01M291.1 30.3h.01M304.3 31.6h.01M292.6 30.1h.01M305.6 31.8h.01M311.4 32.6h.01M291.6 30.1h.01M291.1 32.2h.01M300.3 32.3h.01M306.5 26.2h.01M293.4 27.5h.01M284.6 30.5h.01M287.8 29.2h.01M280.8 35.7h.01M291.0 34.4h.01M283.6 25.8h.01M288.6 34.4h.01M288.8 33.0h.01M284.7 36.1h.01M297.4 34.1h.01M291.4 35.3h.01M294.0 30.1h.01M288.1 32.1h.01M285.5 28.8h.01M294.8 33.4h.01M291.2 34.1h.01M306.7 26.9h.01M295.5 28.6h.01M288.1 32.4h.01M273.5 34.8h.01M300.7 32.4h.01M299.4 36.1h.01M290.6 34.8h.01M305.9 31.9h.01M278.3 32.3h.01M290.6 27.2h.01M293.2 33.7h.01M291.3 31.2h.01M305.8 28.8h.01M285.5 32.3h.01M303.2 32.4h.01M294.0 30.1h.01M304.2 33.1h.01M278.8 33.6h.01M273.4 37.3h.01M298.6 29.3h.01M282.5 31.5h.01M278.7 34.3h.01M288.8 26.9h.01M293.6 34.8h.01M282.6 31.4h.01M309.0 30.8h.01M288.8 32.4h.01M299.9 28.2h.01M292.3 27.0h.01M279.7 28.3h.01M300.7 31.8h.01M300.0 34.4h.01M293.9 32.1h.01M297.0 32.5h.01M284.4 31.5h.01M292.2 31.7h.01M287.1 31.6h.01M296.0 31.8h.01M298.7 33.4h.01M298.4 33.8h.01M300.9 34.8h.01M298.7 29.3h.01M313.5 33.1h.01M304.3 32.7h.01M293.6 28.3h.01M297.1 30.2h.01M289.6 25.8h.01M306.4 27.2h.01M284.3 33.5h.01M298.1 28.9h.01M293.5 32.2h.01M294.9 32.9h.01M300.0 29.9h.01M280.2 38.7h.01M290.0 29.0h.01M300.0 32.6h.01M288.8 38.5h.01M273.8 36.7h.01M293.2 32.4h.01M296.1 30.6h.01M295.9 27.6h.01M290.5 36.9h.01M271.9 36.7h.01M274.3 30.6h.01M300.9 29.8h.01M288.2 27.7h.01M292.4 31.1h.01M287.7 27.6h.01M294.9 32.6h.01M303.3 32.2h.01M306.7 33.8h.01M269.9 38.1h.01M292.4 28.6h.01M297.4 33.9h.01M280.1 29.1h.01M299.2 29.5h.01M305.9 31.1h.01M288.5 28.2h.01M298.2 26.3h.01M282.1 28.7h.01M308.4 35.1h.01M291.5 30.6h.01M299.7 34.5h.01M287.1 38.2h.01M292.0 34.8h.01M273.4 33.0h.01M288.0 37.5h.01M291.4 28.1h.01M309.9 28.2h.01M293.2 28.0h.01M299.3 31.6h.01M290.9 30.6h.01M288.5 29.9h.01M281.8 35.8h.01M300.8 27.0h.01M283.7 33.4h.01M312.7 29.4h.01M290.8 31.0h.01M295.6 30.8h.01M302.9 33.5h.01M298.5 35.5h.01M291.4 30.1h.01M318.4 24.1h.01M279.7 26.0h.01M296.3 28.3h.01M302.0 24.9h.01M292.2 30.5h.01M284.6 35.4h.01M290.2 33.0h.01M289.0 32.3h.01M289.7 32.0h.01M292.5 29.7h.01M297.2 30.7h.01M285.0 29.2h.01M297.6 34.9h.01M282.2 31.2h.01M297.6 34.1h.01M299.3 27.7h.01M294.0 34.0h.01M295.5 30.7h.01M283.5 32.8h.01M292.9 31.6h.01M306.5 33.8h.01M286.8 32.7h.01M290.9 32.0h.01M307.6 32.9h.01M293.7 29.6h.01M292.2 32.6h.01M289.5 34.9h.01M293.4 28.2h.01M310.2 22.0h.01M291.2 31.3h.01M302.2 33.9h.01M306.2 34.9h.01M296.2 31.6h.01M302.1 30.7h.01M282.7 31.1h.01M299.3 32.8h.01M284.4 35.6h.01M295.8 27.1h.01M297.7 34.0h.01M298.0 30.3h.01M286.9 35.2h.01M295.4 31.3h.01M289.9 28.9h.01M277.5 31.8h.01M303.1 32.9h.01M288.0 36.2h.01M291.3 28.8h.01M302.1 34.7h.01M289.9 28.3h.01M292.4 24.7h.01M294.3 35.7h.01M295.7 29.3h.01M299.4 29.6h.01M304.2 29.6h.01" stroke="#222" stroke-opacity="0.45" stroke-width="1.1" stroke-linecap="round" fill="none" filter="url(#soft2)"/>
<path d="M320.7 30.2h.01M294.7 27.3h.01M274.0 33.7h.01M296.9 27.1h.01M299.9 29.9h.01M284.2 31.6h.01M297.5 35.6h.01M309.4 33.9h.01M281.8 28.6h.01M297.2 26.0h.01M289.6 30.1h.01M290.6 32.9h.01M306.6 40.2h.01M304.4 37.1h.01M277.0 37.2h.01M310.2 25.2h.01M327.5 29.2h.01M292.9 28.0h.01M283.9 37.4h.01M295.6 30.1h.01M308.2 27.3h.01M280.1 29.2h.01M281.5 35.5h.01M288.8 26.7h.01M285.5 22.0h.01M294.3 32.5h.01M300.6 30.8h.01M297.6 27.3h.01M292.3 32.8h.01M274.9 34.9h.01M294.0 32.3h.01M285.3 42.0h.01M292.0 28.2h.01M280.1 35.0h.01M289.1 28.0h.01M281.8 36.7h.01M293.2 37.3h.01M291.8 26.1h.01M304.2 33.6h.01M282.8 30.4h.01M278.4 36.2h.01M286.1 34.4h.01M295.6 30.7h.01M297.2 30.8h.01M275.4 29.9h.01M275.5 35.8h.01M301.1 29.1h.01M300.7 33.2h.01M305.7 27.3h.01M292.4 27.0h.01M282.4 38.8h.01M263.8 27.4h.01M298.8 35.9h.01M281.0 21.8h.01M267.9 33.8h.01M307.5 36.5h.01M281.7 38.8h.01M289.4 35.1h.01M289.3 40.0h.01" stroke="#222" stroke-opacity="0.3" stroke-width="0.8" stroke-linecap="round" fill="none" filter="url(#soft2)"/>
<path d="M320.9 44.6h.01M321.5 65.2h.01M323.4 57.2h.01M321.8 53.5h.01M321.8 64.3h.01M323.2 78.0h.01M316.3 68.0h.01M323.8 53.3h.01M322.7 63.4h.01M319.4 69.8h.01M328.4 69.4h.01M324.9 72.9h.01M322.1 72.1h.01M320.0 65.1h.01M324.7 75.0h.01M321.6 60.9h.01M323.9 62.8h.01M322.9 70.6h.01M320.1 71.2h.01M323.7 61.2h.01M318.6 58.0h.01M322.4 71.7h.01M316.4 69.7h.01M323.1 53.6h.01M325.1 67.0h.01M323.8 54.9h.01M319.1 71.5h.01M326.8 66.7h.01M321.9 59.5h.01M317.2 72.1h.01M322.2 74.3h.01M320.3 72.7h.01M320.3 68.6h.01M326.7 57.3h.01M325.3 63.4h.01M319.6 65.3h.01M324.5 57.3h.01M321.7 58.5h.01M320.1 61.7h.01M325.0 59.2h.01M326.3 60.2h.01M320.4 72.9h.01M326.8 57.8h.01M324.3 53.3h.01M321.2 60.2h.01M324.7 52.5h.01M320.9 57.5h.01M322.8 52.8h.01M318.4 88.2h.01M323.2 50.4h.01M325.1 52.0h.01M316.7 78.0h.01M326.3 56.2h.01M319.1 67.6h.01M328.7 68.7h.01M324.5 53.2h.01M317.0 66.9h.01M325.6 64.7h.01M322.5 75.5h.01M319.9 73.0h.01M325.0 58.1h.01M322.9 64.4h.01M324.3 55.0h.01M321.8 64.3h.01M322.6 63.7h.01M323.3 61.8h.01M321.0 72.5h.01M320.5 60.7h.01M319.8 53.5h.01M323.9 63.1h.01M322.1 67.4h.01M322.0 69.4h.01M328.0 66.5h.01M321.7 77.9h.01M324.7 49.0h.01M326.6 65.3h.01M325.1 53.5h.01M319.9 57.9h.01M324.2 53.7h.01M320.3 71.8h.01M320.5 64.5h.01M319.8 48.7h.01M322.2 62.5h.01M318.1 71.9h.01M325.0 71.2h.01M320.9 53.6h.01M322.2 64.9h.01M322.0 58.4h.01M319.5 57.1h.01M322.2 59.3h.01M327.6 61.1h.01M323.9 59.5h.01M321.9 55.1h.01M321.0 50.5h.01M316.2 75.1h.01M319.3 67.2h.01M322.1 58.6h.01M324.7 58.7h.01M323.8 60.3h.01M325.5 71.8h.01M322.7 73.0h.01M324.0 76.9h.01M322.1 50.1h.01M323.1 65.5h.01M321.4 61.7h.01M321.7 52.7h.01M327.7 56.8h.01M319.2 49.8h.01M319.9 63.2h.01M327.0 68.7h.01M320.3 52.8h.01M319.1 62.8h.01M325.1 59.3h.01M327.4 80.2h.01M323.0 44.8h.01M325.8 62.6h.01M324.5 72.0h.01M319.4 64.0h.01M323.0 57.0h.01M324.6 62.4h.01M321.3 79.7h.01M323.0 77.6h.01M322.0 72.4h.01M320.2 64.8h.01M325.8 44.8h.01M324.1 61.1h.01M325.8 65.0h.01M322.3 52.4h.01M331.4 57.1h.01M321.5 57.3h.01M321.6 65.4h.01M318.4 72.6h.01M321.7 68.6h.01M316.1 59.0h.01M321.6 60.1h.01M320.5 66.1h.01M323.7 55.0h.01M316.5 69.8h.01M321.5 72.7h.01M325.1 62.6h.01M318.2 60.4h.01M320.3 74.2h.01M317.4 71.4h.01M317.8 58.6h.01M318.2 57.5h.01M321.1 66.7h.01M320.7 69.4h.01M327.8 64.9h.01M319.0 61.9h.01M322.2 60.4h.01M326.0 73.4h.01M328.5 68.0h.01M314.4 62.3h.01M324.5 56.5h.01M320.7 71.3h.01M322.9 53.8h.01M320.7 36.9h.01M322.5 52.9h.01M322.3 53.2h.01M319.7 59.0h.01M330.9 53.2h.01M318.9 58.8h.01M325.7 70.4h.01M324.6 60.7h.01M322.9 56.8h.01M321.9 56.5h.01M318.1 54.9h.01M328.3 66.9h.01M320.2 62.5h.01M321.1 74.0h.01M322.4 58.0h.01M324.5 66.2h.01M320.4 56.8h.01M322.9 49.4h.01M319.7 72.2h.01M325.1 73.1h.01M321.1 58.3h.01M321.7 59.3h.01M326.3 61.6h.01M326.6 57.4h.01M323.6 77.4h.01M320.2 57.8h.01M320.7 49.6h.01M321.6 57.9h.01M329.1 59.3h.01M316.0 71.6h.01M325.3 63.2h.01M323.3 69.6h.01M320.8 63.8h.01M322.9 77.7h.01M326.7 64.9h.01M318.4 71.1h.01M322.3 73.5h.01M322.6 65.0h.01M324.4 57.2h.01M320.5 83.2h.01M319.8 71.5h.01M324.5 70.5h.01M326.6 51.9h.01M325.3 45.7h.01M322.6 66.4h.01M325.6 72.8h.01M319.6 61.1h.01M322.0 57.5h.01M320.0 57.8h.01M325.9 75.2h.01M324.7 78.0h.01M322.7 54.1h.01M320.5 65.2h.01M325.6 73.9h.01M319.8 71.7h.01M320.9 68.6h.01M325.2 76.2h.01M320.9 65.6h.01M323.8 59.9h.01M322.7 68.6h.01M317.5 57.9h.01M329.4 67.4h.01M320.8 47.6h.01M319.6 67.9h.01M324.5 67.3h.01M324.2 58.3h.01M327.3 53.8h.01M324.0 61.2h.01M317.3 71.3h.01M321.6 69.6h.01M326.3 64.9h.01M320.5 61.6h.01M322.3 75.9h.01M325.0 77.2h.01M324.7 56.9h.01M325.3 71.9h.01M322.1 67.5h.01M321.5 52.6h.01M322.2 70.1h.01M321.4 44.1h.01M320.0 72.9h.01M323.1 73.2h.01M320.2 59.9h.01M319.4 56.8h.01M324.0 64.7h.01M321.0 66.1h.01M318.5 60.1h.01M317.9 50.5h.01M318.4 54.0h.01M327.2 75.4h.01M326.2 58.5h.01M324.3 53.7h.01M320.8 65.6h.01M317.6 65.2h.01M324.3 45.6h.01M315.1 61.1h.01M322.1 64.7h.01M319.0 68.4h.01M322.8 57.1h.01M327.4 65.7h.01M324.7 79.5h.01M321.0 61.6h.01M317.2 61.5h.01M323.8 85.2h.01M324.1 65.2h.01M318.6 56.1h.01M316.9 51.6h.01M322.8 66.1h.01M319.7 61.6h.01M320.0 68.9h.01M324.4 58.6h.01M321.1 52.9h.01M321.0 82.5h.01M322.4 70.9h.01M324.2 76.3h.01M321.5 55.6h.01M325.6 71.5h.01M320.5 73.0h.01M322.4 63.1h.01M328.0 68.1h.01M323.4 60.7h.01M323.1 72.6h.01M323.8 56.9h.01M323.8 62.5h.01M323.4 61.8h.01M315.9 49.5h.01M321.3 44.3h.01M317.9 81.1h.01M324.5 59.5h.01M323.4 44.0h.01M323.2 72.0h.01M323.0 52.1h.01M325.4 58.9h.01M320.7 65.2h.01M321.5 81.2h.01M322.0 82.2h.01M323.8 52.7h.01M322.4 64.0h.01M326.8 74.6h.01M330.2 57.7h.01M321.1 83.8h.01M319.7 66.6h.01M327.3 54.7h.01M321.4 57.0h.01M324.0 67.0h.01M322.3 69.2h.01M320.1 60.2h.01M323.9 81.1h.01M322.3 64.0h.01M326.4 64.2h.01M326.4 65.6h.01M325.9 65.1h.01M319.7 56.1h.01M323.7 79.9h.01M328.1 60.7h.01M330.0 53.8h.01M319.9 71.6h.01M317.8 71.5h.01M323.6 69.0h.01M318.8 66.8h.01M325.3 63.0h.01M325.6 63.7h.01M323.5 60.7h.01M318.3 62.1h.01M324.0 56.9h.01M316.5 49.9h.01M326.4 61.5h.01M320.1 74.3h.01M321.9 50.3h.01M321.1 55.8h.01M321.9 55.5h.01M322.7 67.5h.01M320.7 61.7h.01M322.0 70.7h.01M320.3 70.1h.01M326.2 61.8h.01M319.5 60.8h.01M317.1 58.7h.01M318.8 62.0h.01M321.3 68.0h.01M322.8 67.2h.01M322.3 66.0h.01M319.0 69.3h.01M326.4 73.2h.01M318.4 67.2h.01M317.5 70.1h.01M321.8 59.5h.01M320.2 61.4h.01M322.4 55.0h.01M322.6 65.8h.01M324.1 63.1h.01M322.4 83.8h.01M325.5 66.3h.01M318.2 68.9h.01M324.2 40.2h.01M322.0 66.9h.01M322.6 64.4h.01M322.0 75.7h.01M323.6 61.0h.01M321.8 81.8h.01M319.8 58.9h.01M323.4 64.8h.01M323.4 75.4h.01M325.9 67.2h.01M322.6 63.0h.01M321.8 72.3h.01M318.6 54.4h.01M321.1 55.0h.01M320.2 74.0h.01M315.6 68.6h.01M318.5 61.4h.01M320.7 54.8h.01M317.9 64.1h.01M313.4 44.9h.01M321.3 73.2h.01M328.1 60.9h.01M320.0 61.0h.01M323.9 71.7h.01M319.5 67.7h.01M322.4 73.6h.01M321.2 61.7h.01M319.9 51.9h.01M323.3 69.8h.01M325.9 65.9h.01M321.1 55.4h.01M318.9 57.1h.01M323.5 64.3h.01M315.5 62.6h.01M321.6 54.3h.01M322.4 68.2h.01M319.3 51.6h.01M321.5 65.8h.01M321.7 77.1h.01M322.9 54.7h.01M324.8 57.8h.01M324.6 64.4h.01M326.2 54.7h.01M324.7 67.2h.01M319.7 69.7h.01M329.4 66.6h.01M320.1 62.2h.01M326.5 65.8h.01M327.0 57.8h.01M326.5 49.6h.01M322.0 60.9h.01M321.0 74.3h.01M320.6 66.6h.01M328.2 70.8h.01M321.2 57.1h.01M316.3 66.8h.01M325.2 73.2h.01M323.2 82.5h.01M324.8 43.2h.01M319.8 70.5h.01M321.2 70.9h.01M330.3 56.8h.01M329.3 62.8h.01M318.0 64.4h.01M325.3 58.4h.01M327.3 55.8h.01M321.9 71.6h.01M321.8 58.6h.01M322.4 69.3h.01M327.8 75.5h.01M328.2 63.3h.01M317.4 63.1h.01M321.2 54.7h.01M320.9 62.9h.01M322.6 71.6h.01M319.7 73.6h.01M322.6 70.0h.01M326.3 52.6h.01M327.4 57.2h.01M323.7 73.1h.01M325.3 49.7h.01M323.0 73.5h.01M322.1 62.8h.01M322.7 78.0h.01M320.8 55.2h.01M319.1 58.8h.01M321.8 66.6h.01M322.2 48.4h.01M317.6 69.5h.01M324.7 51.6h.01M325.4 42.1h.01M329.7 68.7h.01M317.4 68.0h.01M322.4 59.5h.01M321.4 61.5h.01M322.2 55.5h.01M320.7 68.4h.01M324.1 51.8h.01M321.0 77.3h.01M324.7 78.0h.01M318.3 54.4h.01M315.8 46.4h.01M321.3 54.3h.01M319.1 57.4h.01M321.9 70.8h.01M324.2 48.0h.01M327.1 60.6h.01M319.4 63.2h.01M321.3 51.3h.01M327.3 58.4h.01M320.6 68.2h.01M327.7 67.8h.01M319.7 67.4h.01M325.9 66.9h.01M324.5 59.3h.01M322.3 48.7h.01M320.3 53.5h.01M322.5 76.7h.01M315.5 51.9h.01M319.6 62.7h.01" stroke="#222" stroke-opacity="0.48" stroke-width="1.1" stroke-linecap="round" fill="none" filter="url(#soft2)"/>
<path d="M328.4 55.9h.01M317.7 81.8h.01M324.0 72.9h.01M326.6 56.4h.01M323.2 57.4h.01M318.0 67.7h.01M324.4 49.4h.01M317.8 73.9h.01M322.9 74.7h.01M320.3 55.5h.01M326.3 73.8h.01M306.3 77.3h.01M317.8 74.7h.01M330.7 62.4h.01M316.6 69.4h.01M322.5 73.4h.01M314.3 69.2h.01M326.9 75.1h.01M325.5 81.6h.01M317.4 82.0h.01M323.1 53.0h.01M320.4 69.5h.01M323.8 83.6h.01M323.1 59.3h.01M334.1 61.7h.01M317.5 78.1h.01M319.7 55.7h.01M316.1 81.5h.01M316.1 67.4h.01M319.5 63.5h.01M317.5 68.0h.01M325.3 79.8h.01M320.0 50.8h.01M313.8 66.1h.01M308.3 83.4h.01M322.2 67.6h.01M314.3 57.6h.01M317.9 74.8h.01M319.7 74.1h.01M324.8 41.0h.01M320.7 82.5h.01M319.2 67.7h.01M321.3 50.1h.01M334.0 64.3h.01M325.5 60.2h.01M329.7 81.1h.01M328.5 78.5h.01M325.9 84.1h.01M324.2 67.8h.01M326.5 54.5h.01M308.0 76.6h.01M322.8 56.9h.01M320.5 53.7h.01M317.4 68.5h.01M322.7 76.9h.01M321.5 74.3h.01M325.8 57.0h.01M312.7 57.2h.01M320.6 59.2h.01M334.2 57.2h.01M324.6 56.2h.01M325.8 49.7h.01M327.3 68.5h.01M319.8 50.6h.01M331.2 58.6h.01M330.0 34.8h.01M315.4 89.7h.01M331.8 66.4h.01M327.5 74.0h.01M320.0 67.8h.01M315.7 48.7h.01M322.7 75.6h.01M322.9 50.2h.01M326.7 67.3h.01M326.1 62.4h.01M320.5 79.8h.01M329.6 50.5h.01M315.9 78.7h.01M324.0 66.8h.01M316.6 79.3h.01M323.0 69.0h.01M324.1 59.4h.01M324.2 67.9h.01M326.0 71.1h.01M314.9 57.0h.01M320.5 81.3h.01M318.4 80.9h.01M328.0 77.5h.01M334.4 66.0h.01M323.8 82.0h.01M324.2 79.1h.01M321.3 84.5h.01M323.9 41.3h.01M328.0 63.7h.01M317.1 62.3h.01M320.4 81.0h.01M323.8 65.3h.01M321.9 54.5h.01M318.5 60.1h.01M320.7 51.1h.01M319.8 79.2h.01M324.5 66.2h.01M323.9 63.0h.01M315.5 77.6h.01M334.4 72.8h.01M325.8 98.1h.01M315.3 73.0h.01M320.1 62.6h.01M312.9 65.2h.01M324.2 45.5h.01" stroke="#222" stroke-opacity="0.3" stroke-width="0.8" stroke-linecap="round" fill="none" filter="url(#soft2)"/>
<path d="M295.1 52.8h.01M280.7 73.0h.01M261.2 86.6h.01M264.4 75.9h.01M273.2 54.6h.01M309.5 78.9h.01M297.8 78.1h.01M288.9 92.2h.01M262.4 66.1h.01M270.6 77.6h.01M279.9 94.8h.01M271.4 60.3h.01M307.6 84.2h.01M281.7 65.8h.01M297.9 53.9h.01M297.3 58.0h.01M301.7 49.9h.01M307.5 91.7h.01M260.3 54.5h.01M307.5 89.4h.01M274.5 88.5h.01M289.7 59.1h.01M295.5 68.0h.01M266.5 91.1h.01M297.0 58.9h.01M281.6 82.2h.01M278.7 59.6h.01M286.9 96.4h.01M264.0 59.3h.01M284.6 98.2h.01M311.6 46.4h.01M293.0 53.3h.01M270.0 53.2h.01M285.5 98.7h.01M310.2 65.5h.01" stroke="#222" stroke-opacity="0.25" stroke-width="0.8" stroke-linecap="round" fill="none" filter="url(#soft2)"/>
<path d="M331.8 74.1h.01M265.0 91.1h.01M281.2 97.3h.01M269.7 91.0h.01M300.5 60.2h.01M273.8 58.1h.01M320.5 63.5h.01M338.4 61.8h.01M332.2 29.7h.01M318.7 67.0h.01M330.5 45.9h.01M296.5 84.0h.01M279.7 48.7h.01M327.6 70.9h.01M298.6 20.2h.01M320.9 52.2h.01M278.3 49.9h.01M270.1 86.3h.01M323.6 96.3h.01M313.6 31.9h.01M293.2 98.6h.01M259.1 46.4h.01M271.1 32.7h.01M281.3 68.5h.01M264.5 88.4h.01M293.8 32.8h.01M267.2 61.0h.01M287.3 59.1h.01M267.7 47.4h.01M299.9 25.7h.01" stroke="#222" stroke-opacity="0.25" stroke-width="0.8" stroke-linecap="round" fill="none" filter="url(#soft2)"/>
<defs><pattern id="chk" x="452" y="46.7" width="4" height="4" patternUnits="userSpaceOnUse"><rect width="4" height="4" fill="#fff"/><rect x="2" width="2" height="2" fill="#000"/><rect y="2" width="2" height="2" fill="#000"/></pattern></defs>
<path d="M394 18.2V115.0H512" stroke="#000" stroke-width="1.4" fill="none"/>
<text x="390.3" y="117.6" font-size="7.2" text-anchor="end" font-weight="normal" fill="#111" stroke="#111" stroke-width="0.25">0</text>
<text x="390.3" y="98.36" font-size="7.2" text-anchor="end" font-weight="normal" fill="#111" stroke="#111" stroke-width="0.25">10</text>
<text x="390.3" y="79.12" font-size="7.2" text-anchor="end" font-weight="normal" fill="#111" stroke="#111" stroke-width="0.25">20</text>
<text x="390.3" y="59.88" font-size="7.2" text-anchor="end" font-weight="normal" fill="#111" stroke="#111" stroke-width="0.25">30</text>
<text x="390.3" y="40.64000000000001" font-size="7.2" text-anchor="end" font-weight="normal" fill="#111" stroke="#111" stroke-width="0.25">40</text>
<text x="390.3" y="21.4" font-size="7.2" text-anchor="end" font-weight="normal" fill="#111" stroke="#111" stroke-width="0.25">50</text>
<path d="M390.8 115.00H394M390.8 95.76H394M390.8 76.52H394M390.8 57.28H394M390.8 38.04H394M390.8 18.80H394M466.7 115V118.4" stroke="#000" stroke-width="1.2" fill="none"/>
<rect x="402" y="113.3" width="33" height="1.7" fill="#222"/>
<rect x="450.8" y="45.9" width="32.5" height="69.1" fill="url(#chk)" stroke="#000" stroke-width="1.8"/>
<path d="M467 45V38.2M459 38.2H475" stroke="#000" stroke-width="1.3" fill="none"/>
<path d="M416.3 31V24.2H467.3V31" stroke="#000" stroke-width="1.4" fill="none"/>
<text x="441.8" y="19.4" font-size="9.7" text-anchor="middle" font-weight="normal" fill="#111" stroke="#111" stroke-width="0.3" textLength="26.8" lengthAdjust="spacingAndGlyphs">p&lt;0.01</text>
<text x="418" y="129" font-size="10.2" text-anchor="middle" font-weight="normal" fill="#111" stroke="#111" stroke-width="0.3">Naïve B6</text>
<text x="469.5" y="129" font-size="10.2" text-anchor="middle" font-weight="normal" fill="#111" stroke="#111" stroke-width="0.3">Day 8 BMT</text>
<text transform="translate(375.5 68) rotate(-90)" font-size="9.05" text-anchor="middle" fill="#111" stroke="#111" stroke-width="0.2">%CD8 of FoxP3<tspan font-size="6" dy="-2.6">+</tspan><tspan dy="2.6"> T cells</tspan></text>
<path d="M28.7 168.9V261.5H168" stroke="#000" stroke-width="1.3" fill="none"/>
<text x="24.7" y="263.95" font-size="7.3" text-anchor="end" font-weight="normal" fill="#111" stroke="#111" stroke-width="0.3">0</text>
<text x="24.7" y="233.28333333333333" font-size="7.3" text-anchor="end" font-weight="normal" fill="#111" stroke="#111" stroke-width="0.3">5</text>
<text x="24.7" y="202.61666666666665" font-size="7.3" text-anchor="end" font-weight="normal" fill="#111" stroke="#111" stroke-width="0.3">10</text>
<text x="24.7" y="171.95" font-size="7.3" text-anchor="end" font-weight="normal" fill="#111" stroke="#111" stroke-width="0.3">15</text>
<text x="28.7" y="272.0" font-size="7.3" text-anchor="middle" font-weight="normal" fill="#111" stroke="#111" stroke-width="0.3">0</text>
<text x="56.35" y="272.0" font-size="7.3" text-anchor="middle" font-weight="normal" fill="#111" stroke="#111" stroke-width="0.3">5</text>
<text x="84.0" y="272.0" font-size="7.3" text-anchor="middle" font-weight="normal" fill="#111" stroke="#111" stroke-width="0.3">10</text>
<text x="111.65" y="272.0" font-size="7.3" text-anchor="middle" font-weight="normal" fill="#111" stroke="#111" stroke-width="0.3">15</text>
<text x="139.3" y="272.0" font-size="7.3" text-anchor="middle" font-weight="normal" fill="#111" stroke="#111" stroke-width="0.3">20</text>
<text x="166.95" y="272.0" font-size="7.3" text-anchor="middle" font-weight="normal" fill="#111" stroke="#111" stroke-width="0.3">25</text>
<path d="M25.0 261.50H28.7M25.0 230.83H28.7M25.0 200.17H28.7M25.0 169.50H28.7M28.70 261.5v3M56.35 261.5v3M84.00 261.5v3M111.65 261.5v3M139.30 261.5v3M166.95 261.5v3" stroke="#000" stroke-width="1.1" fill="none"/>
<polyline points="45.3,200.5 72.9,226.2 106.1,229.6 144.8,233.3" fill="none" stroke="#000" stroke-width="1.1"/>
<polyline points="45.3,239.7 72.9,238.8 106.1,245.6 144.8,240.0" fill="none" stroke="#000" stroke-width="1.1"/>
<polyline points="45.3,202.6 72.9,244.9 106.1,246.5 144.8,229.0" fill="none" stroke="#000" stroke-width="1.1"/>
<path d="M45.3 198.9V202.0M42.7 198.9h5.2M42.7 202.0h5.2M72.9 224.1V228.4M70.3 224.1h5.2M70.3 228.4h5.2M106.1 222.6V236.7M103.5 222.6h5.2M103.5 236.7h5.2M144.8 227.8V238.8M142.2 227.8h5.2M142.2 238.8h5.2" stroke="#000" stroke-width="1" fill="none"/>
<path d="M45.3 234.8V244.6M42.7 234.8h5.2M42.7 244.6h5.2M72.9 234.2V243.4M70.3 234.2h5.2M70.3 243.4h5.2M106.1 241.9V249.2M103.5 241.9h5.2M103.5 249.2h5.2M144.8 235.7V244.3M142.2 235.7h5.2M142.2 244.3h5.2" stroke="#000" stroke-width="1" fill="none"/>
<path d="M45.3 186.7V218.6M42.7 186.7h5.2M42.7 218.6h5.2M72.9 239.4V250.5M70.3 239.4h5.2M70.3 250.5h5.2M106.1 241.9V251.1M103.5 241.9h5.2M103.5 251.1h5.2M144.8 218.9V239.1M142.2 218.9h5.2M142.2 239.1h5.2" stroke="#000" stroke-width="1" fill="none"/>
<circle cx="45.3" cy="200.5" r="2.3" fill="#000"/>
<circle cx="72.9" cy="226.2" r="2.3" fill="#000"/>
<circle cx="106.1" cy="229.6" r="2.3" fill="#000"/>
<circle cx="144.8" cy="233.3" r="2.3" fill="#000"/>
<circle cx="45.3" cy="239.7" r="2.1" fill="#fff" fill-opacity="0.35" stroke="#000" stroke-width="1.1"/>
<circle cx="72.9" cy="238.8" r="2.1" fill="#fff" fill-opacity="0.35" stroke="#000" stroke-width="1.1"/>
<circle cx="106.1" cy="245.6" r="2.1" fill="#fff" fill-opacity="0.35" stroke="#000" stroke-width="1.1"/>
<circle cx="144.8" cy="240.0" r="2.1" fill="#fff" fill-opacity="0.35" stroke="#000" stroke-width="1.1"/>
<path d="M45.3 200.1L47.6 204.4H42.9Z" fill="#fff" fill-opacity="0.35" stroke="#000" stroke-width="1.05" stroke-linejoin="miter"/>
<path d="M72.9 242.4L75.3 246.7H70.6Z" fill="#fff" fill-opacity="0.35" stroke="#000" stroke-width="1.05" stroke-linejoin="miter"/>
<path d="M106.1 243.9L108.5 248.2H103.8Z" fill="#fff" fill-opacity="0.35" stroke="#000" stroke-width="1.05" stroke-linejoin="miter"/>
<path d="M144.8 226.4L147.2 230.7H142.5Z" fill="#fff" fill-opacity="0.35" stroke="#000" stroke-width="1.05" stroke-linejoin="miter"/>
<path d="M110.39999999999999 172.6h11.3" stroke="#000" stroke-width="1.1"/>
<circle cx="116.3" cy="172.6" r="2.3" fill="#000"/>
<text x="127.1" y="175.4" font-size="7.8" text-anchor="start" font-weight="normal" fill="#111" stroke="#111" stroke-width="0.28">Spleen</text>
<path d="M110.39999999999999 183.35h11.3" stroke="#000" stroke-width="1.1"/>
<circle cx="116.3" cy="183.3" r="2.1" fill="#fff" fill-opacity="0.35" stroke="#000" stroke-width="1.1"/>
<text x="127.1" y="186.15" font-size="7.8" text-anchor="start" font-weight="normal" fill="#111" stroke="#111" stroke-width="0.28">Inguinal</text>
<path d="M110.39999999999999 194.1h11.3" stroke="#000" stroke-width="1.1"/>
<path d="M116.3 191.5L118.6 195.8H114.0Z" fill="#fff" fill-opacity="0.35" stroke="#000" stroke-width="1.05" stroke-linejoin="miter"/>
<text x="127.1" y="196.9" font-size="7.8" text-anchor="start" font-weight="normal" fill="#111" stroke="#111" stroke-width="0.28">Mesenteric</text>
<text x="91" y="158.8" font-size="13.4" text-anchor="middle" fill="#111" stroke="#111" stroke-width="0.22">CD4<tspan font-size="7.6" dx="0.9" dy="-4.1" stroke="#111" stroke-width="0.35">+</tspan><tspan dx="0.6" dy="4.1"> Tregs</tspan></text>
<text x="93" y="286" font-size="12.8" text-anchor="middle" fill="#111" stroke="#111" stroke-width="0.12" textLength="79.6" lengthAdjust="spacingAndGlyphs">Days post BMT</text>
<text transform="translate(12.700000000000001 214.2) rotate(-90)" font-size="9.05" text-anchor="middle" fill="#111" stroke="#111" stroke-width="0.3">%FoxP3 of CD4<tspan font-size="6" dy="-2.6">+</tspan><tspan dy="2.6"> T cells</tspan></text>
<path d="M199.6 169.5V262.1H339" stroke="#000" stroke-width="1.3" fill="none"/>
<text x="195.6" y="264.55" font-size="7.3" text-anchor="end" font-weight="normal" fill="#111" stroke="#111" stroke-width="0.3">0.0</text>
<text x="195.6" y="241.55" font-size="7.3" text-anchor="end" font-weight="normal" fill="#111" stroke="#111" stroke-width="0.3">0.5</text>
<text x="195.6" y="218.55" font-size="7.3" text-anchor="end" font-weight="normal" fill="#111" stroke="#111" stroke-width="0.3">1.0</text>
<text x="195.6" y="195.54999999999998" font-size="7.3" text-anchor="end" font-weight="normal" fill="#111" stroke="#111" stroke-width="0.3">1.5</text>
<text x="195.6" y="172.54999999999998" font-size="7.3" text-anchor="end" font-weight="normal" fill="#111" stroke="#111" stroke-width="0.3">2.0</text>
<text x="199.6" y="272.6" font-size="7.3" text-anchor="middle" font-weight="normal" fill="#111" stroke="#111" stroke-width="0.3">0</text>
<text x="227.25" y="272.6" font-size="7.3" text-anchor="middle" font-weight="normal" fill="#111" stroke="#111" stroke-width="0.3">5</text>
<text x="254.9" y="272.6" font-size="7.3" text-anchor="middle" font-weight="normal" fill="#111" stroke="#111" stroke-width="0.3">10</text>
<text x="282.55" y="272.6" font-size="7.3" text-anchor="middle" font-weight="normal" fill="#111" stroke="#111" stroke-width="0.3">15</text>
<text x="310.2" y="272.6" font-size="7.3" text-anchor="middle" font-weight="normal" fill="#111" stroke="#111" stroke-width="0.3">20</text>
<text x="337.85" y="272.6" font-size="7.3" text-anchor="middle" font-weight="normal" fill="#111" stroke="#111" stroke-width="0.3">25</text>
<path d="M195.9 262.10H199.6M195.9 239.10H199.6M195.9 216.10H199.6M195.9 193.10H199.6M195.9 170.10H199.6M199.60 262.1v3M227.25 262.1v3M254.90 262.1v3M282.55 262.1v3M310.20 262.1v3M337.85 262.1v3" stroke="#000" stroke-width="1.1" fill="none"/>
<polyline points="216.2,247.4 243.8,192.6 277.0,199.5 315.7,252.0" fill="none" stroke="#000" stroke-width="1.1"/>
<polyline points="216.2,262.1 243.8,208.7 277.0,220.7 315.7,235.9" fill="none" stroke="#000" stroke-width="1.1"/>
<polyline points="216.2,262.1 243.8,185.7 277.0,239.6 315.7,262.1" fill="none" stroke="#000" stroke-width="1.1"/>
<path d="M216.2 244.2V250.6M213.6 244.2h5.2M213.6 250.6h5.2M243.8 184.8V200.5M241.2 184.8h5.2M241.2 200.5h5.2M277.0 187.1V212.0M274.4 187.1h5.2M274.4 212.0h5.2M315.7 249.2V254.7M313.1 249.2h5.2M313.1 254.7h5.2" stroke="#000" stroke-width="1" fill="none"/>
<path d="M243.8 191.7V225.8M241.2 191.7h5.2M241.2 225.8h5.2M277.0 208.3V233.1M274.4 208.3h5.2M274.4 233.1h5.2M315.7 222.5V249.2M313.1 222.5h5.2M313.1 249.2h5.2" stroke="#000" stroke-width="1" fill="none"/>
<path d="M243.8 175.6V195.9M241.2 175.6h5.2M241.2 195.9h5.2M277.0 235.9V243.2M274.4 235.9h5.2M274.4 243.2h5.2" stroke="#000" stroke-width="1" fill="none"/>
<circle cx="216.2" cy="247.4" r="2.3" fill="#000"/>
<circle cx="243.8" cy="192.6" r="2.3" fill="#000"/>
<circle cx="277.0" cy="199.5" r="2.3" fill="#000"/>
<circle cx="315.7" cy="252.0" r="2.3" fill="#000"/>
<circle cx="216.2" cy="262.1" r="2.1" fill="#fff" fill-opacity="0.35" stroke="#000" stroke-width="1.1"/>
<circle cx="243.8" cy="208.7" r="2.1" fill="#fff" fill-opacity="0.35" stroke="#000" stroke-width="1.1"/>
<circle cx="277.0" cy="220.7" r="2.1" fill="#fff" fill-opacity="0.35" stroke="#000" stroke-width="1.1"/>
<circle cx="315.7" cy="235.9" r="2.1" fill="#fff" fill-opacity="0.35" stroke="#000" stroke-width="1.1"/>
<path d="M216.2 259.6L218.5 263.9H213.8Z" fill="#fff" fill-opacity="0.35" stroke="#000" stroke-width="1.05" stroke-linejoin="miter"/>
<path d="M243.8 183.2L246.2 187.5H241.5Z" fill="#fff" fill-opacity="0.35" stroke="#000" stroke-width="1.05" stroke-linejoin="miter"/>
<path d="M277.0 237.0L279.4 241.3H274.7Z" fill="#fff" fill-opacity="0.35" stroke="#000" stroke-width="1.05" stroke-linejoin="miter"/>
<path d="M315.7 259.6L318.1 263.9H313.4Z" fill="#fff" fill-opacity="0.35" stroke="#000" stroke-width="1.05" stroke-linejoin="miter"/>
<path d="M281.70000000000005 173.3h11.3" stroke="#000" stroke-width="1.1"/>
<circle cx="287.6" cy="173.3" r="2.3" fill="#000"/>
<text x="297.6" y="176.10000000000002" font-size="7.8" text-anchor="start" font-weight="normal" fill="#111" stroke="#111" stroke-width="0.28">Spleen</text>
<path d="M281.70000000000005 184.15h11.3" stroke="#000" stroke-width="1.1"/>
<circle cx="287.6" cy="184.2" r="2.1" fill="#fff" fill-opacity="0.35" stroke="#000" stroke-width="1.1"/>
<text x="297.6" y="186.95000000000002" font-size="7.8" text-anchor="start" font-weight="normal" fill="#111" stroke="#111" stroke-width="0.28">Inguinal</text>
<path d="M281.70000000000005 195.0h11.3" stroke="#000" stroke-width="1.1"/>
<path d="M287.6 192.4L290.0 196.8H285.2Z" fill="#fff" fill-opacity="0.35" stroke="#000" stroke-width="1.05" stroke-linejoin="miter"/>
<text x="297.6" y="197.8" font-size="7.8" text-anchor="start" font-weight="normal" fill="#111" stroke="#111" stroke-width="0.28">Mesenteric</text>
<text x="256.5" y="158.8" font-size="13.4" text-anchor="middle" fill="#111" stroke="#111" stroke-width="0.22">CD8<tspan font-size="7.6" dx="0.9" dy="-4.1" stroke="#111" stroke-width="0.35">+</tspan><tspan dx="0.6" dy="4.1"> Tregs</tspan></text>
<text x="264" y="286" font-size="12.8" text-anchor="middle" fill="#111" stroke="#111" stroke-width="0.12" textLength="79.6" lengthAdjust="spacingAndGlyphs">Days post BMT</text>
<text transform="translate(183.20000000000002 214.2) rotate(-90)" font-size="9.05" text-anchor="middle" fill="#111" stroke="#111" stroke-width="0.3">%FoxP3 of CD8<tspan font-size="6" dy="-2.6">+</tspan><tspan dy="2.6"> T cells</tspan></text>
<path d="M376.6 169.5V262.4H515.3" stroke="#000" stroke-width="1.3" fill="none"/>
<text x="372.6" y="264.84999999999997" font-size="7.3" text-anchor="end" font-weight="normal" fill="#111" stroke="#111" stroke-width="0.3">0</text>
<text x="372.6" y="246.39" font-size="7.3" text-anchor="end" font-weight="normal" fill="#111" stroke="#111" stroke-width="0.3">10</text>
<text x="372.6" y="227.92999999999998" font-size="7.3" text-anchor="end" font-weight="normal" fill="#111" stroke="#111" stroke-width="0.3">20</text>
<text x="372.6" y="209.46999999999997" font-size="7.3" text-anchor="end" font-weight="normal" fill="#111" stroke="#111" stroke-width="0.3">30</text>
<text x="372.6" y="191.01" font-size="7.3" text-anchor="end" font-weight="normal" fill="#111" stroke="#111" stroke-width="0.3">40</text>
<text x="372.6" y="172.54999999999998" font-size="7.3" text-anchor="end" font-weight="normal" fill="#111" stroke="#111" stroke-width="0.3">50</text>
<text x="376.6" y="272.9" font-size="7.3" text-anchor="middle" font-weight="normal" fill="#111" stroke="#111" stroke-width="0.3">0</text>
<text x="404.05" y="272.9" font-size="7.3" text-anchor="middle" font-weight="normal" fill="#111" stroke="#111" stroke-width="0.3">5</text>
<text x="431.5" y="272.9" font-size="7.3" text-anchor="middle" font-weight="normal" fill="#111" stroke="#111" stroke-width="0.3">10</text>
<text x="458.95000000000005" y="272.9" font-size="7.3" text-anchor="middle" font-weight="normal" fill="#111" stroke="#111" stroke-width="0.3">15</text>
<text x="486.40000000000003" y="272.9" font-size="7.3" text-anchor="middle" font-weight="normal" fill="#111" stroke="#111" stroke-width="0.3">20</text>
<text x="513.85" y="272.9" font-size="7.3" text-anchor="middle" font-weight="normal" fill="#111" stroke="#111" stroke-width="0.3">25</text>
<path d="M372.90000000000003 262.40H376.6M372.90000000000003 243.94H376.6M372.90000000000003 225.48H376.6M372.90000000000003 207.02H376.6M372.90000000000003 188.56H376.6M372.90000000000003 170.10H376.6M376.60 262.4v3M404.05 262.4v3M431.50 262.4v3M458.95 262.4v3M486.40 262.4v3M513.85 262.4v3" stroke="#000" stroke-width="1.1" fill="none"/>
<polyline points="393.1,257.2 420.5,213.5 453.5,224.0 491.9,248.4" fill="none" stroke="#000" stroke-width="1.1"/>
<polyline points="393.1,262.4 420.5,234.7 453.5,222.5 491.9,249.5" fill="none" stroke="#000" stroke-width="1.1"/>
<polyline points="393.1,261.3 420.5,219.4 453.5,202.8 491.9,248.7" fill="none" stroke="#000" stroke-width="1.1"/>
<path d="M393.1 253.0V261.5M390.5 253.0h5.2M390.5 261.5h5.2M420.5 207.9V219.0M417.9 207.9h5.2M417.9 219.0h5.2M453.5 215.1V232.9M450.9 215.1h5.2M450.9 232.9h5.2M491.9 244.3V252.4M489.3 244.3h5.2M489.3 252.4h5.2" stroke="#000" stroke-width="1" fill="none"/>
<path d="M420.5 232.9V236.6M417.9 232.9h5.2M417.9 236.6h5.2M453.5 220.7V224.4M450.9 220.7h5.2M450.9 224.4h5.2M491.9 246.2V252.8M489.3 246.2h5.2M489.3 252.8h5.2" stroke="#000" stroke-width="1" fill="none"/>
<path d="M393.1 260.4V262.2M390.5 260.4h5.2M390.5 262.2h5.2M420.5 217.2V221.6M417.9 217.2h5.2M417.9 221.6h5.2M453.5 182.8V222.7M450.9 182.8h5.2M450.9 222.7h5.2M491.9 245.4V252.1M489.3 245.4h5.2M489.3 252.1h5.2" stroke="#000" stroke-width="1" fill="none"/>
<circle cx="393.1" cy="257.2" r="2.3" fill="#000"/>
<circle cx="420.5" cy="213.5" r="2.3" fill="#000"/>
<circle cx="453.5" cy="224.0" r="2.3" fill="#000"/>
<circle cx="491.9" cy="248.4" r="2.3" fill="#000"/>
<circle cx="393.1" cy="262.4" r="2.1" fill="#fff" fill-opacity="0.35" stroke="#000" stroke-width="1.1"/>
<circle cx="420.5" cy="234.7" r="2.1" fill="#fff" fill-opacity="0.35" stroke="#000" stroke-width="1.1"/>
<circle cx="453.5" cy="222.5" r="2.1" fill="#fff" fill-opacity="0.35" stroke="#000" stroke-width="1.1"/>
<circle cx="491.9" cy="249.5" r="2.1" fill="#fff" fill-opacity="0.35" stroke="#000" stroke-width="1.1"/>
<path d="M393.1 258.7L395.4 263.0H390.7Z" fill="#fff" fill-opacity="0.35" stroke="#000" stroke-width="1.05" stroke-linejoin="miter"/>
<path d="M420.5 216.8L422.9 221.1H418.2Z" fill="#fff" fill-opacity="0.35" stroke="#000" stroke-width="1.05" stroke-linejoin="miter"/>
<path d="M453.5 200.2L455.8 204.5H451.1Z" fill="#fff" fill-opacity="0.35" stroke="#000" stroke-width="1.05" stroke-linejoin="miter"/>
<path d="M491.9 246.2L494.2 250.5H489.5Z" fill="#fff" fill-opacity="0.35" stroke="#000" stroke-width="1.05" stroke-linejoin="miter"/>
<path d="M458.20000000000005 173.3h11.3" stroke="#000" stroke-width="1.1"/>
<circle cx="464.1" cy="173.3" r="2.3" fill="#000"/>
<text x="474.6" y="176.10000000000002" font-size="7.8" text-anchor="start" font-weight="normal" fill="#111" stroke="#111" stroke-width="0.28">Spleen</text>
<path d="M458.20000000000005 184.20000000000002h11.3" stroke="#000" stroke-width="1.1"/>
<circle cx="464.1" cy="184.2" r="2.1" fill="#fff" fill-opacity="0.35" stroke="#000" stroke-width="1.1"/>
<text x="474.6" y="187.00000000000003" font-size="7.8" text-anchor="start" font-weight="normal" fill="#111" stroke="#111" stroke-width="0.28">Inguinal</text>
<path d="M458.20000000000005 195.10000000000002h11.3" stroke="#000" stroke-width="1.1"/>
<path d="M464.1 192.6L466.5 196.9H461.8Z" fill="#fff" fill-opacity="0.35" stroke="#000" stroke-width="1.05" stroke-linejoin="miter"/>
<text x="474.6" y="197.90000000000003" font-size="7.8" text-anchor="start" font-weight="normal" fill="#111" stroke="#111" stroke-width="0.28">Mesenteric</text>
<text x="442.2" y="287.5" font-size="12.8" text-anchor="middle" fill="#111" stroke="#111" stroke-width="0.12" textLength="79.6" lengthAdjust="spacingAndGlyphs">Days post BMT</text>
<text transform="translate(361.7 216.4) rotate(-90)" font-size="9.05" text-anchor="middle" fill="#111" stroke="#111" stroke-width="0.3">%CD8 of FoxP3<tspan font-size="6" dy="-2.6">+</tspan><tspan dy="2.6"> T cells</tspan></text>
</g>
</svg>
</body></html>
